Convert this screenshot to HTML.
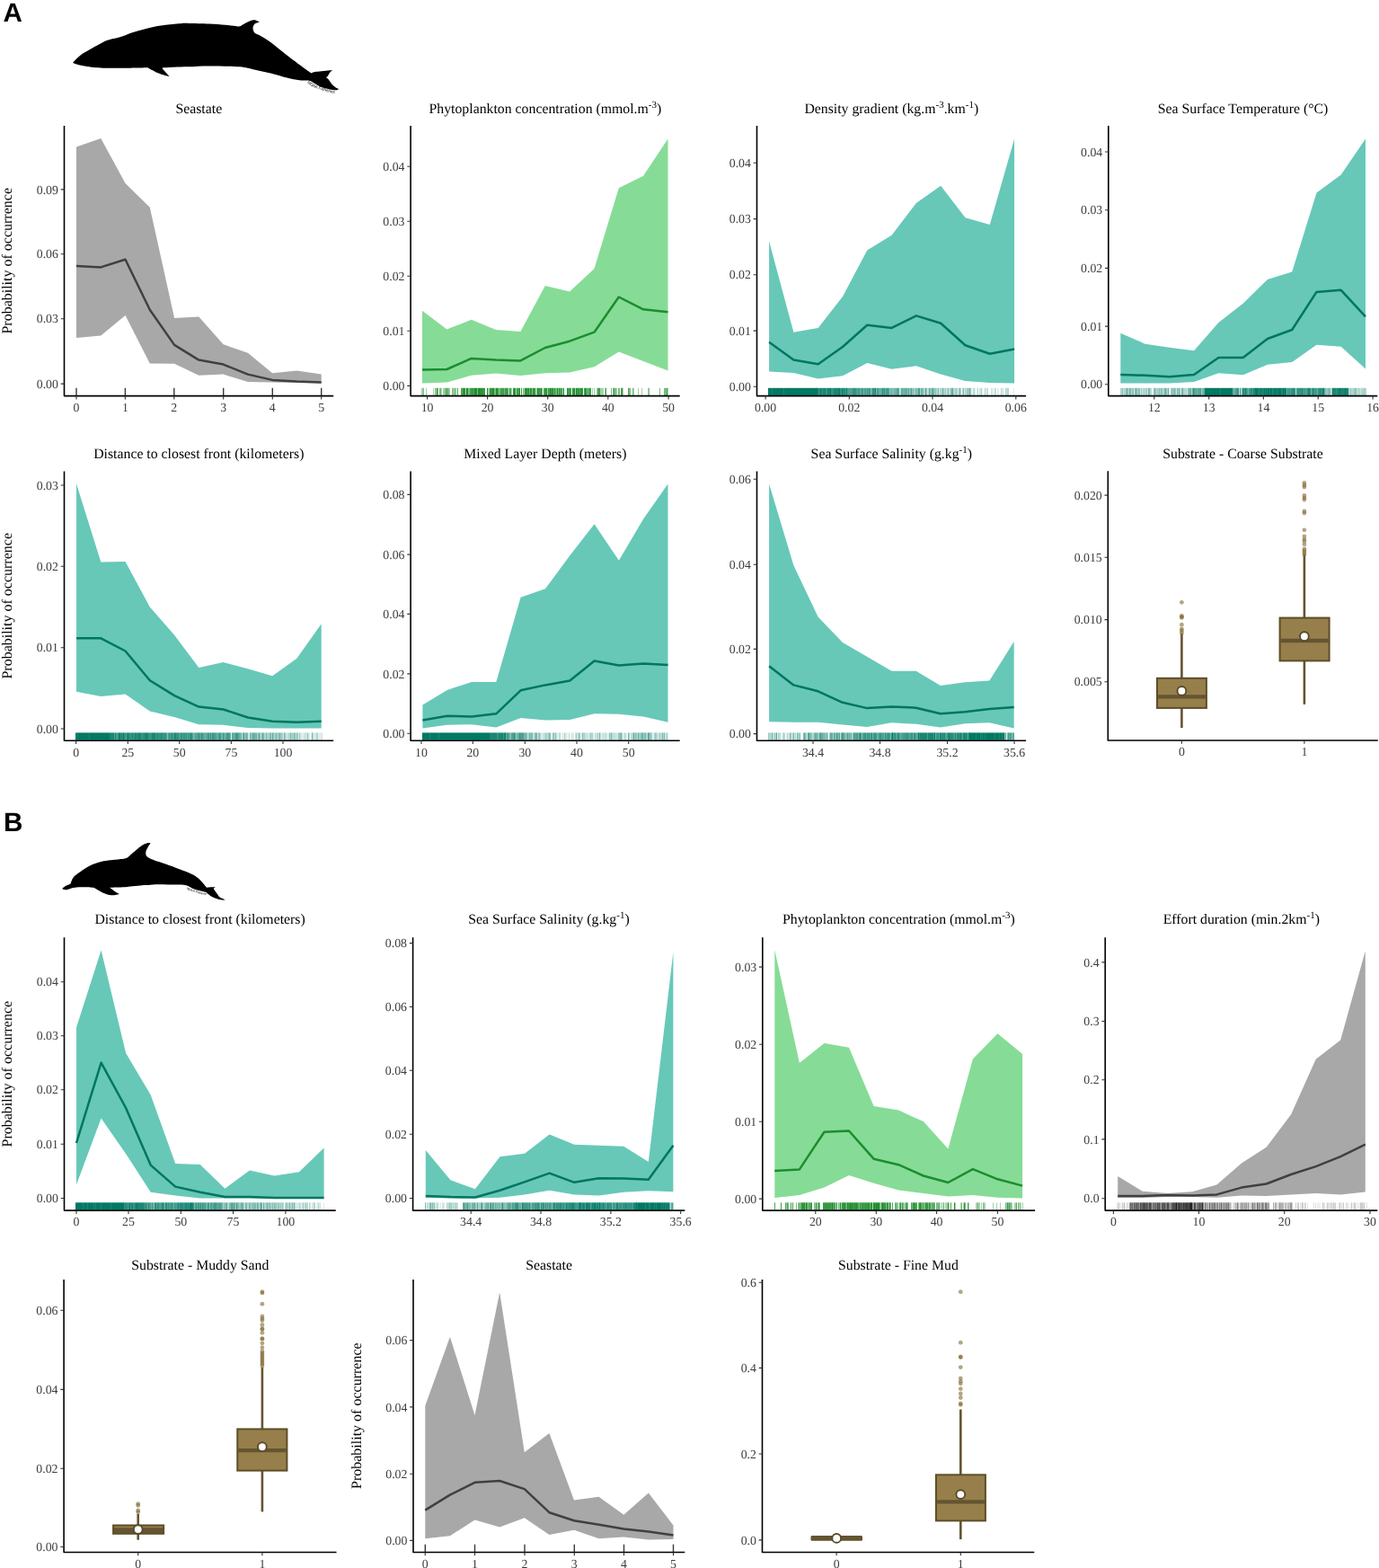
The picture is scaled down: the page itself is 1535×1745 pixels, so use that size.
<!DOCTYPE html>
<html><head><meta charset="utf-8"><title>Figure</title>
<style>
html,body{margin:0;padding:0;background:#fff;}
body{width:1535px;height:1745px;overflow:hidden;}
svg{display:block;}
text{text-rendering:geometricPrecision;}
.tl{font-family:"Liberation Serif","Times New Roman",serif;font-size:13.8px;fill:#3c3c3c;}
.tt{font-family:"Liberation Serif","Times New Roman",serif;font-size:15.8px;fill:#000;}
.tt .sup{font-size:11px;}
.yl{font-family:"Liberation Serif","Times New Roman",serif;font-size:16px;fill:#000;}
.pl{font-family:"Liberation Sans",Arial,sans-serif;font-weight:bold;font-size:29.6px;fill:#000;}
.noaa{font-family:"Liberation Sans",Arial,sans-serif;font-size:4.7px;fill:#000;}
</style></head><body>
<svg width="1535" height="1745" viewBox="0 0 1535 1745">
<rect width="1535" height="1745" fill="#fff"/>

<text class="pl" x="3.5" y="23.9">A</text>
<text class="pl" x="4.0" y="924.6">B</text>
<path d="M81.2 69.7C81.2 69.7 82.4 68.1 84.1 66.5C85.8 64.9 88.4 62.2 91.4 60.1C94.5 58.0 98.8 55.8 102.4 53.7C106.1 51.7 110.6 49.2 113.3 47.8C116.0 46.4 117.3 45.8 118.8 45.1C120.3 44.5 119.8 44.6 122.4 43.9C125.0 43.2 130.0 42.3 134.3 41.0C138.6 39.7 142.7 37.7 148.0 36.0C153.3 34.3 160.1 32.3 166.2 30.9C172.3 29.5 178.3 28.6 184.4 27.8C190.5 27.0 198.4 26.2 202.7 25.9C207.0 25.6 205.0 25.8 210.0 25.9C215.0 26.0 226.0 26.1 232.8 26.4C239.6 26.7 245.7 27.3 251.0 27.8C256.3 28.3 261.8 29.2 264.7 29.4C267.6 29.5 268.4 28.7 268.4 28.7C268.4 28.7 273.4 25.7 275.7 24.6C278.0 23.5 280.4 22.6 282.1 22.3C283.8 22.0 284.6 22.6 285.7 23.0C286.8 23.4 288.9 24.4 288.9 24.4C288.9 24.4 285.9 25.1 284.8 25.8C283.7 26.5 282.6 27.6 282.1 28.7C281.6 29.8 281.4 31.0 281.6 32.3C281.8 33.6 282.4 35.4 283.4 36.4C284.4 37.4 287.5 38.5 287.5 38.5C287.5 38.5 295.9 43.1 301.2 46.9C306.5 50.7 313.3 56.8 319.4 61.5C325.5 66.2 333.2 71.9 337.7 75.2C342.2 78.5 346.4 81.4 346.4 81.4C346.4 81.4 348.2 80.3 351.9 79.8C355.5 79.3 365.4 78.3 368.3 78.2C371.2 78.1 369.0 79.1 369.0 79.1C369.0 79.1 367.7 80.0 367.0 80.9C366.3 81.8 365.6 83.6 364.9 84.6C364.2 85.5 362.9 86.6 362.9 86.6C362.9 86.6 364.3 87.0 365.1 87.8C365.9 88.6 367.0 90.3 367.9 91.4C368.8 92.5 369.2 93.6 370.2 94.6C371.2 95.6 372.7 96.7 373.8 97.4C374.9 98.1 376.8 98.7 376.8 98.7C376.8 98.7 376.3 99.9 376.3 99.9C376.3 99.9 372.4 100.3 370.2 100.1C368.0 99.9 365.6 99.1 363.3 98.5C361.0 97.9 359.5 97.8 356.5 96.4C353.5 95.0 345.5 90.1 345.5 90.1C345.5 90.1 343.4 89.7 341.3 89.6C339.2 89.5 336.8 89.8 333.1 89.3C329.5 88.8 324.7 87.9 319.4 86.6C314.1 85.3 307.3 83.1 301.2 81.6C295.1 80.1 288.8 78.7 283.0 77.5C277.2 76.3 274.9 75.0 266.5 74.3C258.1 73.6 242.2 73.4 232.8 73.4C223.4 73.4 216.5 74.1 210.0 74.3C203.5 74.5 198.5 74.5 193.6 74.7C188.7 74.9 180.8 75.4 180.8 75.4C180.8 75.4 180.4 75.9 181.7 77.5C183.0 79.1 188.6 84.9 188.6 84.9C188.6 84.9 186.7 84.8 184.5 84.2C182.3 83.6 178.7 82.6 175.3 81.1C172.0 79.6 164.4 75.2 164.4 75.2C164.4 75.2 139.3 75.8 129.7 75.8C120.1 75.8 113.7 75.8 106.9 75.2C100.1 74.6 92.8 73.2 88.7 72.4C84.6 71.6 83.5 71.0 82.3 70.6C81.0 70.1 81.2 69.7 81.2 69.7Z" fill="#000"/>
<path id="np1" d="M341.8 92.4 Q350 99.6 375 104.6" fill="none"/>
<text class="noaa"><textPath href="#np1">NOAA Fisheries</textPath></text>
<path d="M69.4 988.8C69.4 988.8 71.2 987.3 72.2 986.6C73.2 985.9 74.6 985.3 75.7 984.8C76.8 984.3 78.6 983.4 78.6 983.4C78.6 983.4 79.3 980.8 80.0 979.4C80.7 978.0 81.5 976.5 82.9 975.1C84.3 973.7 86.6 972.3 88.6 970.8C90.6 969.3 92.5 967.8 95.1 966.2C97.7 964.7 101.1 962.8 104.4 961.5C107.8 960.2 111.6 959.1 115.2 958.3C118.8 957.5 122.0 957.4 125.9 956.9C129.8 956.4 136.1 955.9 138.8 955.4C141.6 954.9 142.4 954.0 142.4 954.0C142.4 954.0 148.4 948.7 151.0 946.5C153.6 944.3 155.9 942.1 158.2 940.7C160.5 939.3 163.0 938.4 164.6 938.0C166.2 937.6 167.5 938.5 167.5 938.5C167.5 938.5 165.4 941.4 164.6 942.9C163.8 944.4 162.8 945.8 162.5 947.2C162.2 948.6 162.2 950.4 162.5 951.5C162.8 952.6 163.5 953.2 164.6 954.0C165.7 954.8 166.9 955.4 168.9 956.2C170.9 957.1 172.5 957.6 176.7 959.1C180.9 960.6 188.9 963.2 194.3 965.2C199.7 967.2 205.1 969.1 209.0 970.8C212.9 972.5 215.4 973.6 217.8 975.2C220.2 976.8 221.6 978.1 223.6 980.2C225.6 982.3 230.1 987.8 230.1 987.8C230.1 987.8 232.6 987.3 234.2 987.2C235.8 987.1 239.8 987.2 239.8 987.2C239.8 987.2 237.7 988.7 237.7 988.7C237.7 988.7 238.2 989.7 238.9 990.7C239.6 991.7 240.8 993.5 241.8 994.8C242.8 996.1 243.2 997.5 244.7 998.6C246.2 999.7 250.9 1001.3 250.9 1001.3C250.9 1001.3 248.9 1001.9 247.1 1001.6C245.3 1001.4 242.2 1000.6 240.0 999.8C237.8 999.0 235.9 998.0 234.2 996.9C232.4 995.8 229.5 993.1 229.5 993.1C229.5 993.1 226.0 992.3 223.6 991.6C221.2 990.9 217.5 990.1 214.8 989.0C212.1 987.9 210.6 985.9 207.2 985.2C203.8 984.5 199.4 984.8 194.3 984.6C189.2 984.5 181.6 984.2 176.7 984.3C171.8 984.3 168.1 984.8 165.0 984.9C161.9 985.0 162.9 984.8 158.2 985.2C153.5 985.6 142.7 986.9 136.7 987.3C130.7 987.7 122.3 987.7 122.3 987.7C122.3 987.7 126.4 991.1 128.1 992.3C129.8 993.5 132.7 994.9 132.7 994.9C132.7 994.9 126.7 996.5 123.8 996.3C120.9 996.1 118.4 995.2 115.2 993.8C112.0 992.4 104.4 987.7 104.4 987.7C104.4 987.7 93.9 987.2 90.1 987.2C86.3 987.2 84.1 987.5 81.5 988.0C78.9 988.5 76.1 989.9 74.3 990.2C72.5 990.5 71.2 990.0 70.4 989.8C69.6 989.6 69.4 988.8 69.4 988.8Z" fill="#000"/>
<path id="np2" d="M207.5 989.6 Q216 993.6 229.5 996.2" fill="none"/>
<text class="noaa" style="font-size:3.5px"><textPath href="#np2">NOAA Fisheries</textPath></text>
<polygon points="85,163.4 112.3,154 139.5,204 166.8,230.7 194.1,354.1 221.3,352.6 248.6,383.3 275.9,392.7 303.2,415.2 330.4,412.5 357.7,416.6 357.7,426.4 330.4,426 303.2,425.6 275.9,425 248.6,416.6 221.3,417.7 194.1,404.7 166.8,404.5 139.5,351 112.3,373.5 85,376" fill="#a9a8a9"/>
<polyline points="85,296.1 112.3,297.4 139.5,288.8 166.8,344.7 194.1,383.9 221.3,400.6 248.6,405.6 275.9,416.6 303.2,422.9 330.4,424.6 357.7,425.6" fill="none" stroke="#404040" stroke-width="2.5" stroke-linejoin="round"/>
<line x1="85" y1="431.8" x2="85" y2="440.3" stroke="#3a3a3a" stroke-width="1.4"/>
<line x1="139.4" y1="431.8" x2="139.4" y2="440.3" stroke="#3a3a3a" stroke-width="1.4"/>
<line x1="193.8" y1="431.8" x2="193.8" y2="440.3" stroke="#3a3a3a" stroke-width="1.4"/>
<line x1="248.7" y1="431.8" x2="248.7" y2="440.3" stroke="#3a3a3a" stroke-width="1.4"/>
<line x1="303.3" y1="431.8" x2="303.3" y2="440.3" stroke="#3a3a3a" stroke-width="1.4"/>
<line x1="357.7" y1="431.8" x2="357.7" y2="440.3" stroke="#3a3a3a" stroke-width="1.4"/>
<path d="M71.5 140V440.6H371.2" fill="none" stroke="#000" stroke-width="1.6" stroke-linejoin="round"/>
<path d="M85 440.6v3.8M139.4 440.6v3.8M193.8 440.6v3.8M248.7 440.6v3.8M303.3 440.6v3.8M357.7 440.6v3.8M71.5 427.1h-3.8M71.5 354.7h-3.8M71.5 282.8h-3.8M71.5 210.9h-3.8" stroke="#333" stroke-width="1.1" fill="none"/>
<text class="tl" x="85" y="457.9" text-anchor="middle">0</text>
<text class="tl" x="139.4" y="457.9" text-anchor="middle">1</text>
<text class="tl" x="193.8" y="457.9" text-anchor="middle">2</text>
<text class="tl" x="248.7" y="457.9" text-anchor="middle">3</text>
<text class="tl" x="303.3" y="457.9" text-anchor="middle">4</text>
<text class="tl" x="357.7" y="457.9" text-anchor="middle">5</text>
<text class="tl" x="64.9" y="431.7" text-anchor="end">0.00</text>
<text class="tl" x="64.9" y="359.3" text-anchor="end">0.03</text>
<text class="tl" x="64.9" y="287.4" text-anchor="end">0.06</text>
<text class="tl" x="64.9" y="215.5" text-anchor="end">0.09</text>
<text class="tt" x="221.3" y="125.6" text-anchor="middle">Seastate</text>
<text class="yl" transform="translate(13.2 290.3) rotate(-90)" text-anchor="middle">Probability of occurrence</text>
<polygon points="470,345.8 497.4,366.6 524.7,355.8 552,367 579.4,369.1 606.8,318 634.1,324.5 661.5,298.9 688.8,209.2 716.1,195.7 743.5,154.6 743.5,412.5 716.1,402 688.8,391.6 661.5,408.3 634.1,414.5 606.8,415.2 579.4,418.1 552,415.6 524.7,417.7 497.4,425.6 470,426.4" fill="#86dc96"/>
<polyline points="470,411.4 497.4,411 524.7,398.9 552,400.6 579.4,401.4 606.8,387 634.1,379.7 661.5,369.7 688.8,330.5 716.1,344.3 743.5,347.2" fill="none" stroke="#1d8c2f" stroke-width="2.5" stroke-linejoin="round"/>
<path d="M469.5 431.8v8.5M470.5 431.8v8.5M474.5 431.8v8.5M482.5 431.8v8.5M485.5 431.8v8.5M491.5 431.8v8.5M493.5 431.8v8.5M494.5 431.8v8.5M500.5 431.8v8.5M504.5 431.8v8.5M506.5 431.8v8.5M518.5 431.8v8.5M543.5 431.8v8.5M544.5 431.8v8.5M566.5 431.8v8.5M569.5 431.8v8.5M574.5 431.8v8.5M583.5 431.8v8.5M596.5 431.8v8.5M597.5 431.8v8.5M609.5 431.8v8.5M626.5 431.8v8.5M640.5 431.8v8.5M659.5 431.8v8.5M661.5 431.8v8.5M664.5 431.8v8.5M668.5 431.8v8.5M669.5 431.8v8.5M670.5 431.8v8.5M671.5 431.8v8.5M673.5 431.8v8.5M686.5 431.8v8.5M693.5 431.8v8.5M705.5 431.8v8.5M710.5 431.8v8.5M714.5 431.8v8.5M721.5 431.8v8.5M743.5 431.8v8.5" stroke="#1f8f2f" stroke-opacity="0.4" stroke-width="1"/>
<path d="M471.5 431.8v8.5M484.5 431.8v8.5M487.5 431.8v8.5M489.5 431.8v8.5M490.5 431.8v8.5M495.5 431.8v8.5M496.5 431.8v8.5M498.5 431.8v8.5M499.5 431.8v8.5M503.5 431.8v8.5M505.5 431.8v8.5M507.5 431.8v8.5M521.5 431.8v8.5M522.5 431.8v8.5M531.5 431.8v8.5M550.5 431.8v8.5M551.5 431.8v8.5M555.5 431.8v8.5M556.5 431.8v8.5M561.5 431.8v8.5M565.5 431.8v8.5M582.5 431.8v8.5M589.5 431.8v8.5M592.5 431.8v8.5M603.5 431.8v8.5M616.5 431.8v8.5M618.5 431.8v8.5M619.5 431.8v8.5M621.5 431.8v8.5M653.5 431.8v8.5M655.5 431.8v8.5M680.5 431.8v8.5M682.5 431.8v8.5M684.5 431.8v8.5M685.5 431.8v8.5M688.5 431.8v8.5M689.5 431.8v8.5M700.5 431.8v8.5M701.5 431.8v8.5M704.5 431.8v8.5M722.5 431.8v8.5M734.5 431.8v8.5M739.5 431.8v8.5M740.5 431.8v8.5M741.5 431.8v8.5" stroke="#1f8f2f" stroke-opacity="0.6" stroke-width="1"/>
<path d="M497.5 431.8v8.5M509.5 431.8v8.5M513.5 431.8v8.5M514.5 431.8v8.5M523.5 431.8v8.5M527.5 431.8v8.5M554.5 431.8v8.5M557.5 431.8v8.5M559.5 431.8v8.5M563.5 431.8v8.5M567.5 431.8v8.5M568.5 431.8v8.5M575.5 431.8v8.5M577.5 431.8v8.5M595.5 431.8v8.5M601.5 431.8v8.5M605.5 431.8v8.5M606.5 431.8v8.5M611.5 431.8v8.5M623.5 431.8v8.5M624.5 431.8v8.5M625.5 431.8v8.5M632.5 431.8v8.5M634.5 431.8v8.5M645.5 431.8v8.5M650.5 431.8v8.5M654.5 431.8v8.5M657.5 431.8v8.5M665.5 431.8v8.5M666.5 431.8v8.5M683.5 431.8v8.5M691.5 431.8v8.5M699.5 431.8v8.5M742.5 431.8v8.5" stroke="#1f8f2f" stroke-opacity="0.8" stroke-width="1"/>
<path d="M486.5 431.8v8.5M515.5 431.8v8.5M517.5 431.8v8.5M524.5 431.8v8.5M525.5 431.8v8.5M526.5 431.8v8.5M535.5 431.8v8.5M537.5 431.8v8.5M538.5 431.8v8.5M539.5 431.8v8.5M545.5 431.8v8.5M546.5 431.8v8.5M547.5 431.8v8.5M558.5 431.8v8.5M560.5 431.8v8.5M562.5 431.8v8.5M571.5 431.8v8.5M573.5 431.8v8.5M576.5 431.8v8.5M580.5 431.8v8.5M584.5 431.8v8.5M586.5 431.8v8.5M587.5 431.8v8.5M591.5 431.8v8.5M593.5 431.8v8.5M599.5 431.8v8.5M600.5 431.8v8.5M608.5 431.8v8.5M610.5 431.8v8.5M613.5 431.8v8.5M614.5 431.8v8.5M622.5 431.8v8.5M633.5 431.8v8.5M635.5 431.8v8.5M638.5 431.8v8.5M642.5 431.8v8.5M643.5 431.8v8.5M644.5 431.8v8.5M646.5 431.8v8.5M648.5 431.8v8.5M652.5 431.8v8.5M667.5 431.8v8.5M674.5 431.8v8.5M692.5 431.8v8.5" stroke="#1f8f2f" stroke-opacity="0.9" stroke-width="1"/>
<path d="M516.5 431.8v8.5M519.5 431.8v8.5M520.5 431.8v8.5M528.5 431.8v8.5M529.5 431.8v8.5M530.5 431.8v8.5M532.5 431.8v8.5M533.5 431.8v8.5M534.5 431.8v8.5M536.5 431.8v8.5M542.5 431.8v8.5M548.5 431.8v8.5M549.5 431.8v8.5M552.5 431.8v8.5M553.5 431.8v8.5M564.5 431.8v8.5M572.5 431.8v8.5M578.5 431.8v8.5M585.5 431.8v8.5M588.5 431.8v8.5M590.5 431.8v8.5M594.5 431.8v8.5M598.5 431.8v8.5M602.5 431.8v8.5M607.5 431.8v8.5M612.5 431.8v8.5M615.5 431.8v8.5M617.5 431.8v8.5M620.5 431.8v8.5M627.5 431.8v8.5M631.5 431.8v8.5M637.5 431.8v8.5M639.5 431.8v8.5M641.5 431.8v8.5M647.5 431.8v8.5M651.5 431.8v8.5M656.5 431.8v8.5" stroke="#1f8f2f" stroke-opacity="1.0" stroke-width="1"/>
<path d="M457.1 140V440.6H756.7" fill="none" stroke="#000" stroke-width="1.6" stroke-linejoin="round"/>
<path d="M475.6 440.6v3.8M542.6 440.6v3.8M609.7 440.6v3.8M676.8 440.6v3.8M744.1 440.6v3.8M457.1 429.4h-3.8M457.1 368.3h-3.8M457.1 307.2h-3.8M457.1 246.3h-3.8M457.1 185.2h-3.8" stroke="#333" stroke-width="1.1" fill="none"/>
<text class="tl" x="475.6" y="457.9" text-anchor="middle">10</text>
<text class="tl" x="542.6" y="457.9" text-anchor="middle">20</text>
<text class="tl" x="609.7" y="457.9" text-anchor="middle">30</text>
<text class="tl" x="676.8" y="457.9" text-anchor="middle">40</text>
<text class="tl" x="744.1" y="457.9" text-anchor="middle">50</text>
<text class="tl" x="450.5" y="434" text-anchor="end">0.00</text>
<text class="tl" x="450.5" y="372.9" text-anchor="end">0.01</text>
<text class="tl" x="450.5" y="311.8" text-anchor="end">0.02</text>
<text class="tl" x="450.5" y="250.9" text-anchor="end">0.03</text>
<text class="tl" x="450.5" y="189.8" text-anchor="end">0.04</text>
<text class="tt" x="606.9" y="125.6" text-anchor="middle">Phytoplankton concentration (mmol.m<tspan class="sup" dy="-6">-3</tspan><tspan dy="6">)</tspan></text>
<polygon points="856.1,268.6 883.4,369.7 910.7,364.9 938,330.1 965.3,278.6 992.6,261.7 1019.9,225.9 1047.2,206.7 1074.5,242.2 1101.8,249.9 1129.1,154.6 1129.1,426.4 1101.8,426 1074.5,423.9 1047.2,416.6 1019.9,407.3 992.6,410.8 965.3,404.1 938,418.3 910.7,421.4 883.4,415 856.1,413.5" fill="#67c8b8"/>
<polyline points="856.1,380.8 883.4,400.6 910.7,405.2 938,386 965.3,361.8 992.6,364.9 1019.9,351.4 1047.2,359.7 1074.5,384.3 1101.8,393.7 1129.1,388.5" fill="none" stroke="#00765f" stroke-width="2.5" stroke-linejoin="round"/>
<path d="M1066.5 431.8v8.5M1073.5 431.8v8.5M1081.5 431.8v8.5M1082.5 431.8v8.5M1085.5 431.8v8.5M1087.5 431.8v8.5M1093.5 431.8v8.5M1095.5 431.8v8.5M1098.5 431.8v8.5M1104.5 431.8v8.5M1105.5 431.8v8.5M1110.5 431.8v8.5M1111.5 431.8v8.5M1115.5 431.8v8.5M1128.5 431.8v8.5" stroke="#007a64" stroke-opacity="0.12" stroke-width="1"/>
<path d="M1001.5 431.8v8.5M1032.5 431.8v8.5M1045.5 431.8v8.5M1053.5 431.8v8.5M1056.5 431.8v8.5M1083.5 431.8v8.5M1090.5 431.8v8.5M1091.5 431.8v8.5M1096.5 431.8v8.5M1097.5 431.8v8.5M1103.5 431.8v8.5M1108.5 431.8v8.5M1116.5 431.8v8.5M1120.5 431.8v8.5" stroke="#007a64" stroke-opacity="0.2" stroke-width="1"/>
<path d="M989.5 431.8v8.5M1002.5 431.8v8.5M1018.5 431.8v8.5M1024.5 431.8v8.5M1028.5 431.8v8.5M1029.5 431.8v8.5M1033.5 431.8v8.5M1036.5 431.8v8.5M1038.5 431.8v8.5M1038.5 431.8v8.5M1040.5 431.8v8.5M1042.5 431.8v8.5M1043.5 431.8v8.5M1046.5 431.8v8.5M1047.5 431.8v8.5M1048.5 431.8v8.5M1050.5 431.8v8.5M1051.5 431.8v8.5M1054.5 431.8v8.5M1057.5 431.8v8.5M1061.5 431.8v8.5M1062.5 431.8v8.5M1063.5 431.8v8.5M1065.5 431.8v8.5M1069.5 431.8v8.5M1071.5 431.8v8.5M1074.5 431.8v8.5M1075.5 431.8v8.5M1076.5 431.8v8.5M1078.5 431.8v8.5M1079.5 431.8v8.5M1080.5 431.8v8.5M1084.5 431.8v8.5M1088.5 431.8v8.5M1092.5 431.8v8.5M1099.5 431.8v8.5M1107.5 431.8v8.5M1114.5 431.8v8.5M1119.5 431.8v8.5M1121.5 431.8v8.5M1122.5 431.8v8.5" stroke="#007a64" stroke-opacity="0.3" stroke-width="1"/>
<path d="M990.5 431.8v8.5M1010.5 431.8v8.5M1012.5 431.8v8.5M1015.5 431.8v8.5M1017.5 431.8v8.5M1020.5 431.8v8.5M1031.5 431.8v8.5M1052.5 431.8v8.5M1058.5 431.8v8.5M1064.5 431.8v8.5M1067.5 431.8v8.5" stroke="#007a64" stroke-opacity="0.4" stroke-width="1"/>
<path d="M969.5 431.8v8.5M975.5 431.8v8.5M978.5 431.8v8.5M980.5 431.8v8.5M992.5 431.8v8.5M993.5 431.8v8.5M994.5 431.8v8.5M995.5 431.8v8.5M997.5 431.8v8.5M1006.5 431.8v8.5M1008.5 431.8v8.5M1013.5 431.8v8.5M1016.5 431.8v8.5M1021.5 431.8v8.5M1026.5 431.8v8.5M1027.5 431.8v8.5M1035.5 431.8v8.5M1041.5 431.8v8.5M1044.5 431.8v8.5M1055.5 431.8v8.5M1068.5 431.8v8.5M1072.5 431.8v8.5M1077.5 431.8v8.5M1079.5 431.8v8.5" stroke="#007a64" stroke-opacity="0.5" stroke-width="1"/>
<path d="M957.5 431.8v8.5M958.5 431.8v8.5M961.5 431.8v8.5M964.5 431.8v8.5M966.5 431.8v8.5M970.5 431.8v8.5M985.5 431.8v8.5M989.5 431.8v8.5M991.5 431.8v8.5M996.5 431.8v8.5M1000.5 431.8v8.5M1003.5 431.8v8.5M1004.5 431.8v8.5M1005.5 431.8v8.5M1019.5 431.8v8.5M1025.5 431.8v8.5M1034.5 431.8v8.5M1039.5 431.8v8.5M1049.5 431.8v8.5M1059.5 431.8v8.5M1060.5 431.8v8.5" stroke="#007a64" stroke-opacity="0.6" stroke-width="1"/>
<path d="M941.5 431.8v8.5M942.5 431.8v8.5M943.5 431.8v8.5M944.5 431.8v8.5M945.5 431.8v8.5M946.5 431.8v8.5M947.5 431.8v8.5M948.5 431.8v8.5M953.5 431.8v8.5M954.5 431.8v8.5M955.5 431.8v8.5M960.5 431.8v8.5M962.5 431.8v8.5M963.5 431.8v8.5M968.5 431.8v8.5M976.5 431.8v8.5M979.5 431.8v8.5M981.5 431.8v8.5M983.5 431.8v8.5M986.5 431.8v8.5M988.5 431.8v8.5M998.5 431.8v8.5M999.5 431.8v8.5M1007.5 431.8v8.5M1009.5 431.8v8.5M1011.5 431.8v8.5M1014.5 431.8v8.5M1022.5 431.8v8.5M1023.5 431.8v8.5M1030.5 431.8v8.5M1037.5 431.8v8.5" stroke="#007a64" stroke-opacity="0.7" stroke-width="1"/>
<path d="M911.5 431.8v8.5M915.5 431.8v8.5M919.5 431.8v8.5M920.5 431.8v8.5M925.5 431.8v8.5M926.5 431.8v8.5M927.5 431.8v8.5M935.5 431.8v8.5M936.5 431.8v8.5M939.5 431.8v8.5M949.5 431.8v8.5M950.5 431.8v8.5M951.5 431.8v8.5M952.5 431.8v8.5M956.5 431.8v8.5M959.5 431.8v8.5M965.5 431.8v8.5M967.5 431.8v8.5M971.5 431.8v8.5M972.5 431.8v8.5M973.5 431.8v8.5M977.5 431.8v8.5M982.5 431.8v8.5M984.5 431.8v8.5M987.5 431.8v8.5" stroke="#007a64" stroke-opacity="0.8" stroke-width="1"/>
<path d="M859.5 431.8v8.5M872.5 431.8v8.5M909.5 431.8v8.5M910.5 431.8v8.5M912.5 431.8v8.5M913.5 431.8v8.5M914.5 431.8v8.5M916.5 431.8v8.5M917.5 431.8v8.5M918.5 431.8v8.5M921.5 431.8v8.5M922.5 431.8v8.5M923.5 431.8v8.5M928.5 431.8v8.5M929.5 431.8v8.5M930.5 431.8v8.5M931.5 431.8v8.5M932.5 431.8v8.5M933.5 431.8v8.5M937.5 431.8v8.5M938.5 431.8v8.5M940.5 431.8v8.5M942.5 431.8v8.5M974.5 431.8v8.5" stroke="#007a64" stroke-opacity="0.9" stroke-width="1"/>
<path d="M855.5 431.8v8.5M856.5 431.8v8.5M857.5 431.8v8.5M858.5 431.8v8.5M860.5 431.8v8.5M861.5 431.8v8.5M862.5 431.8v8.5M863.5 431.8v8.5M864.5 431.8v8.5M865.5 431.8v8.5M866.5 431.8v8.5M867.5 431.8v8.5M868.5 431.8v8.5M869.5 431.8v8.5M870.5 431.8v8.5M871.5 431.8v8.5M873.5 431.8v8.5M874.5 431.8v8.5M875.5 431.8v8.5M876.5 431.8v8.5M877.5 431.8v8.5M878.5 431.8v8.5M879.5 431.8v8.5M880.5 431.8v8.5M881.5 431.8v8.5M882.5 431.8v8.5M883.5 431.8v8.5M884.5 431.8v8.5M885.5 431.8v8.5M886.5 431.8v8.5M887.5 431.8v8.5M888.5 431.8v8.5M889.5 431.8v8.5M890.5 431.8v8.5M891.5 431.8v8.5M892.5 431.8v8.5M893.5 431.8v8.5M894.5 431.8v8.5M895.5 431.8v8.5M896.5 431.8v8.5M897.5 431.8v8.5M898.5 431.8v8.5M899.5 431.8v8.5M900.5 431.8v8.5M901.5 431.8v8.5M902.5 431.8v8.5M903.5 431.8v8.5M904.5 431.8v8.5M905.5 431.8v8.5M906.5 431.8v8.5M907.5 431.8v8.5M908.5 431.8v8.5M909.5 431.8v8.5M924.5 431.8v8.5M934.5 431.8v8.5" stroke="#007a64" stroke-opacity="1.0" stroke-width="1"/>
<path d="M842.5 140V440.6H1142.1" fill="none" stroke="#000" stroke-width="1.6" stroke-linejoin="round"/>
<path d="M852.1 440.6v3.8M945.3 440.6v3.8M1038 440.6v3.8M1130.8 440.6v3.8M842.5 430.2h-3.8M842.5 368.1h-3.8M842.5 305.7h-3.8M842.5 243.6h-3.8M842.5 181.3h-3.8" stroke="#333" stroke-width="1.1" fill="none"/>
<text class="tl" x="852.1" y="457.9" text-anchor="middle">0.00</text>
<text class="tl" x="945.3" y="457.9" text-anchor="middle">0.02</text>
<text class="tl" x="1038" y="457.9" text-anchor="middle">0.04</text>
<text class="tl" x="1130.8" y="457.9" text-anchor="middle">0.06</text>
<text class="tl" x="835.9" y="434.8" text-anchor="end">0.00</text>
<text class="tl" x="835.9" y="372.7" text-anchor="end">0.01</text>
<text class="tl" x="835.9" y="310.3" text-anchor="end">0.02</text>
<text class="tl" x="835.9" y="248.2" text-anchor="end">0.03</text>
<text class="tl" x="835.9" y="185.9" text-anchor="end">0.04</text>
<text class="tt" x="992.3" y="125.6" text-anchor="middle">Density gradient (kg.m<tspan class="sup" dy="-6">-3</tspan><tspan dy="6">.km</tspan><tspan class="sup" dy="-6">-1</tspan><tspan dy="6">)</tspan></text>
<polygon points="1247.3,370.8 1274.6,382.7 1301.8,386.8 1329.1,390.2 1356.4,358.9 1383.7,337.8 1410.9,310.9 1438.2,302.6 1465.5,214.4 1492.7,194.6 1520,154.6 1520,410.4 1492.7,385.8 1465.5,383.7 1438.2,403.1 1410.9,405.8 1383.7,417.3 1356.4,415.2 1329.1,425 1301.8,426.4 1274.6,426.4 1247.3,426.4" fill="#67c8b8"/>
<polyline points="1247.3,417.1 1274.6,417.7 1301.8,419.3 1329.1,417.1 1356.4,397.9 1383.7,397.9 1410.9,377 1438.2,367 1465.5,324.9 1492.7,322.8 1520,352.4" fill="none" stroke="#00765f" stroke-width="2.5" stroke-linejoin="round"/>
<path d="M1262.5 431.8v8.5M1283.5 431.8v8.5M1301.5 431.8v8.5M1302.5 431.8v8.5M1314.5 431.8v8.5M1380.5 431.8v8.5" stroke="#007a64" stroke-opacity="0.12" stroke-width="1"/>
<path d="M1250.5 431.8v8.5M1269.5 431.8v8.5M1271.5 431.8v8.5M1277.5 431.8v8.5M1303.5 431.8v8.5M1309.5 431.8v8.5M1321.5 431.8v8.5M1379.5 431.8v8.5M1481.5 431.8v8.5M1500.5 431.8v8.5M1510.5 431.8v8.5M1514.5 431.8v8.5" stroke="#007a64" stroke-opacity="0.2" stroke-width="1"/>
<path d="M1247.5 431.8v8.5M1248.5 431.8v8.5M1251.5 431.8v8.5M1253.5 431.8v8.5M1255.5 431.8v8.5M1259.5 431.8v8.5M1266.5 431.8v8.5M1272.5 431.8v8.5M1273.5 431.8v8.5M1274.5 431.8v8.5M1275.5 431.8v8.5M1280.5 431.8v8.5M1281.5 431.8v8.5M1287.5 431.8v8.5M1289.5 431.8v8.5M1291.5 431.8v8.5M1294.5 431.8v8.5M1295.5 431.8v8.5M1299.5 431.8v8.5M1305.5 431.8v8.5M1317.5 431.8v8.5M1318.5 431.8v8.5M1319.5 431.8v8.5M1320.5 431.8v8.5M1326.5 431.8v8.5M1381.5 431.8v8.5M1442.5 431.8v8.5M1483.5 431.8v8.5M1501.5 431.8v8.5M1502.5 431.8v8.5M1504.5 431.8v8.5M1505.5 431.8v8.5M1506.5 431.8v8.5M1511.5 431.8v8.5M1512.5 431.8v8.5M1513.5 431.8v8.5M1515.5 431.8v8.5M1516.5 431.8v8.5M1517.5 431.8v8.5M1519.5 431.8v8.5M1520.5 431.8v8.5" stroke="#007a64" stroke-opacity="0.3" stroke-width="1"/>
<path d="M1252.5 431.8v8.5M1256.5 431.8v8.5M1260.5 431.8v8.5M1268.5 431.8v8.5M1270.5 431.8v8.5M1276.5 431.8v8.5M1284.5 431.8v8.5M1286.5 431.8v8.5M1288.5 431.8v8.5M1293.5 431.8v8.5M1298.5 431.8v8.5M1308.5 431.8v8.5M1311.5 431.8v8.5M1313.5 431.8v8.5M1322.5 431.8v8.5M1337.5 431.8v8.5M1382.5 431.8v8.5M1473.5 431.8v8.5M1476.5 431.8v8.5M1477.5 431.8v8.5M1482.5 431.8v8.5M1503.5 431.8v8.5M1507.5 431.8v8.5M1508.5 431.8v8.5M1518.5 431.8v8.5" stroke="#007a64" stroke-opacity="0.4" stroke-width="1"/>
<path d="M1249.5 431.8v8.5M1257.5 431.8v8.5M1258.5 431.8v8.5M1261.5 431.8v8.5M1263.5 431.8v8.5M1264.5 431.8v8.5M1265.5 431.8v8.5M1267.5 431.8v8.5M1278.5 431.8v8.5M1279.5 431.8v8.5M1285.5 431.8v8.5M1290.5 431.8v8.5M1292.5 431.8v8.5M1296.5 431.8v8.5M1306.5 431.8v8.5M1307.5 431.8v8.5M1310.5 431.8v8.5M1312.5 431.8v8.5M1315.5 431.8v8.5M1324.5 431.8v8.5M1332.5 431.8v8.5M1338.5 431.8v8.5M1475.5 431.8v8.5M1478.5 431.8v8.5M1479.5 431.8v8.5M1480.5 431.8v8.5M1509.5 431.8v8.5" stroke="#007a64" stroke-opacity="0.5" stroke-width="1"/>
<path d="M1297.5 431.8v8.5M1300.5 431.8v8.5M1304.5 431.8v8.5M1316.5 431.8v8.5M1323.5 431.8v8.5M1325.5 431.8v8.5M1327.5 431.8v8.5M1330.5 431.8v8.5M1334.5 431.8v8.5M1339.5 431.8v8.5M1340.5 431.8v8.5M1341.5 431.8v8.5M1372.5 431.8v8.5M1373.5 431.8v8.5M1374.5 431.8v8.5M1383.5 431.8v8.5M1389.5 431.8v8.5M1432.5 431.8v8.5M1459.5 431.8v8.5M1466.5 431.8v8.5M1474.5 431.8v8.5" stroke="#007a64" stroke-opacity="0.6" stroke-width="1"/>
<path d="M1254.5 431.8v8.5M1329.5 431.8v8.5M1331.5 431.8v8.5M1333.5 431.8v8.5M1335.5 431.8v8.5M1336.5 431.8v8.5M1375.5 431.8v8.5M1376.5 431.8v8.5M1380.5 431.8v8.5M1388.5 431.8v8.5M1390.5 431.8v8.5M1394.5 431.8v8.5M1397.5 431.8v8.5M1434.5 431.8v8.5M1436.5 431.8v8.5M1443.5 431.8v8.5M1450.5 431.8v8.5M1452.5 431.8v8.5M1453.5 431.8v8.5M1454.5 431.8v8.5M1460.5 431.8v8.5M1463.5 431.8v8.5M1465.5 431.8v8.5" stroke="#007a64" stroke-opacity="0.7" stroke-width="1"/>
<path d="M1328.5 431.8v8.5M1371.5 431.8v8.5M1377.5 431.8v8.5M1378.5 431.8v8.5M1383.5 431.8v8.5M1384.5 431.8v8.5M1385.5 431.8v8.5M1387.5 431.8v8.5M1391.5 431.8v8.5M1392.5 431.8v8.5M1433.5 431.8v8.5M1435.5 431.8v8.5M1437.5 431.8v8.5M1438.5 431.8v8.5M1440.5 431.8v8.5M1441.5 431.8v8.5M1444.5 431.8v8.5M1445.5 431.8v8.5M1446.5 431.8v8.5M1447.5 431.8v8.5M1448.5 431.8v8.5M1451.5 431.8v8.5M1455.5 431.8v8.5M1458.5 431.8v8.5M1462.5 431.8v8.5M1464.5 431.8v8.5M1467.5 431.8v8.5M1468.5 431.8v8.5M1470.5 431.8v8.5M1471.5 431.8v8.5M1487.5 431.8v8.5" stroke="#007a64" stroke-opacity="0.8" stroke-width="1"/>
<path d="M1358.5 431.8v8.5M1386.5 431.8v8.5M1393.5 431.8v8.5M1395.5 431.8v8.5M1396.5 431.8v8.5M1397.5 431.8v8.5M1400.5 431.8v8.5M1401.5 431.8v8.5M1402.5 431.8v8.5M1404.5 431.8v8.5M1405.5 431.8v8.5M1406.5 431.8v8.5M1408.5 431.8v8.5M1410.5 431.8v8.5M1413.5 431.8v8.5M1416.5 431.8v8.5M1417.5 431.8v8.5M1420.5 431.8v8.5M1422.5 431.8v8.5M1426.5 431.8v8.5M1427.5 431.8v8.5M1429.5 431.8v8.5M1430.5 431.8v8.5M1431.5 431.8v8.5M1439.5 431.8v8.5M1449.5 431.8v8.5M1456.5 431.8v8.5M1457.5 431.8v8.5M1461.5 431.8v8.5M1469.5 431.8v8.5M1472.5 431.8v8.5M1473.5 431.8v8.5M1483.5 431.8v8.5M1484.5 431.8v8.5M1485.5 431.8v8.5M1486.5 431.8v8.5M1488.5 431.8v8.5M1489.5 431.8v8.5M1490.5 431.8v8.5M1492.5 431.8v8.5M1493.5 431.8v8.5M1494.5 431.8v8.5M1495.5 431.8v8.5M1496.5 431.8v8.5M1498.5 431.8v8.5M1499.5 431.8v8.5M1500.5 431.8v8.5" stroke="#007a64" stroke-opacity="0.9" stroke-width="1"/>
<path d="M1341.5 431.8v8.5M1342.5 431.8v8.5M1343.5 431.8v8.5M1344.5 431.8v8.5M1345.5 431.8v8.5M1346.5 431.8v8.5M1347.5 431.8v8.5M1348.5 431.8v8.5M1349.5 431.8v8.5M1350.5 431.8v8.5M1351.5 431.8v8.5M1352.5 431.8v8.5M1353.5 431.8v8.5M1354.5 431.8v8.5M1355.5 431.8v8.5M1356.5 431.8v8.5M1357.5 431.8v8.5M1359.5 431.8v8.5M1360.5 431.8v8.5M1361.5 431.8v8.5M1362.5 431.8v8.5M1363.5 431.8v8.5M1364.5 431.8v8.5M1365.5 431.8v8.5M1366.5 431.8v8.5M1367.5 431.8v8.5M1368.5 431.8v8.5M1369.5 431.8v8.5M1370.5 431.8v8.5M1371.5 431.8v8.5M1398.5 431.8v8.5M1399.5 431.8v8.5M1403.5 431.8v8.5M1407.5 431.8v8.5M1409.5 431.8v8.5M1411.5 431.8v8.5M1412.5 431.8v8.5M1414.5 431.8v8.5M1415.5 431.8v8.5M1418.5 431.8v8.5M1419.5 431.8v8.5M1421.5 431.8v8.5M1423.5 431.8v8.5M1424.5 431.8v8.5M1425.5 431.8v8.5M1428.5 431.8v8.5M1430.5 431.8v8.5M1491.5 431.8v8.5M1497.5 431.8v8.5" stroke="#007a64" stroke-opacity="1.0" stroke-width="1"/>
<path d="M1233.8 140V440.6H1533.3" fill="none" stroke="#000" stroke-width="1.6" stroke-linejoin="round"/>
<path d="M1284.8 440.6v3.8M1345.7 440.6v3.8M1406.4 440.6v3.8M1467.2 440.6v3.8M1528.1 440.6v3.8M1233.8 427.7h-3.8M1233.8 363.1h-3.8M1233.8 298.4h-3.8M1233.8 233.8h-3.8M1233.8 169h-3.8" stroke="#333" stroke-width="1.1" fill="none"/>
<text class="tl" x="1284.8" y="457.9" text-anchor="middle">12</text>
<text class="tl" x="1345.7" y="457.9" text-anchor="middle">13</text>
<text class="tl" x="1406.4" y="457.9" text-anchor="middle">14</text>
<text class="tl" x="1467.2" y="457.9" text-anchor="middle">15</text>
<text class="tl" x="1528.1" y="457.9" text-anchor="middle">16</text>
<text class="tl" x="1227.2" y="432.3" text-anchor="end">0.00</text>
<text class="tl" x="1227.2" y="367.7" text-anchor="end">0.01</text>
<text class="tl" x="1227.2" y="303" text-anchor="end">0.02</text>
<text class="tl" x="1227.2" y="238.4" text-anchor="end">0.03</text>
<text class="tl" x="1227.2" y="173.6" text-anchor="end">0.04</text>
<text class="tt" x="1383.5" y="125.6" text-anchor="middle">Sea Surface Temperature (°C)</text>
<polygon points="85,538.3 112.3,625.5 139.5,625.1 166.8,675.5 194.1,706.8 221.3,742.9 248.6,737 275.9,744.3 303.2,752.2 330.4,732.8 357.7,694.3 357.7,810.6 330.4,810.6 303.2,810.6 275.9,810 248.6,806.8 221.3,806.2 194.1,797.9 166.8,791.6 139.5,772.5 112.3,775 85,769.7" fill="#67c8b8"/>
<polyline points="85,710.3 112.3,710.3 139.5,724.5 166.8,757.2 194.1,774.1 221.3,786.6 248.6,789.5 275.9,798.5 303.2,802.7 330.4,803.7 357.7,802.7" fill="none" stroke="#00765f" stroke-width="2.5" stroke-linejoin="round"/>
<path d="M257.5 815.4v8.5M277.5 815.4v8.5M332.5 815.4v8.5M335.5 815.4v8.5M336.5 815.4v8.5M337.5 815.4v8.5M344.5 815.4v8.5M346.5 815.4v8.5M349.5 815.4v8.5M350.5 815.4v8.5M354.5 815.4v8.5M355.5 815.4v8.5M356.5 815.4v8.5M357.5 815.4v8.5" stroke="#007a64" stroke-opacity="0.12" stroke-width="1"/>
<path d="M269.5 815.4v8.5M276.5 815.4v8.5M290.5 815.4v8.5M298.5 815.4v8.5M302.5 815.4v8.5M315.5 815.4v8.5M318.5 815.4v8.5M319.5 815.4v8.5M320.5 815.4v8.5M334.5 815.4v8.5M338.5 815.4v8.5M339.5 815.4v8.5M340.5 815.4v8.5M341.5 815.4v8.5M343.5 815.4v8.5M351.5 815.4v8.5M358.5 815.4v8.5" stroke="#007a64" stroke-opacity="0.2" stroke-width="1"/>
<path d="M286.5 815.4v8.5M294.5 815.4v8.5M295.5 815.4v8.5M300.5 815.4v8.5M305.5 815.4v8.5M309.5 815.4v8.5M314.5 815.4v8.5M321.5 815.4v8.5M322.5 815.4v8.5M324.5 815.4v8.5M326.5 815.4v8.5M329.5 815.4v8.5M348.5 815.4v8.5M352.5 815.4v8.5M353.5 815.4v8.5" stroke="#007a64" stroke-opacity="0.3" stroke-width="1"/>
<path d="M272.5 815.4v8.5M279.5 815.4v8.5M297.5 815.4v8.5M304.5 815.4v8.5M306.5 815.4v8.5M308.5 815.4v8.5M312.5 815.4v8.5M313.5 815.4v8.5M317.5 815.4v8.5M325.5 815.4v8.5M328.5 815.4v8.5M330.5 815.4v8.5M331.5 815.4v8.5M333.5 815.4v8.5M342.5 815.4v8.5" stroke="#007a64" stroke-opacity="0.4" stroke-width="1"/>
<path d="M186.5 815.4v8.5M215.5 815.4v8.5M247.5 815.4v8.5M260.5 815.4v8.5M267.5 815.4v8.5M273.5 815.4v8.5M275.5 815.4v8.5M280.5 815.4v8.5M284.5 815.4v8.5M287.5 815.4v8.5M289.5 815.4v8.5M291.5 815.4v8.5M293.5 815.4v8.5M296.5 815.4v8.5M299.5 815.4v8.5M307.5 815.4v8.5M310.5 815.4v8.5M311.5 815.4v8.5M316.5 815.4v8.5M323.5 815.4v8.5M327.5 815.4v8.5M347.5 815.4v8.5" stroke="#007a64" stroke-opacity="0.5" stroke-width="1"/>
<path d="M216.5 815.4v8.5M218.5 815.4v8.5M220.5 815.4v8.5M222.5 815.4v8.5M227.5 815.4v8.5M228.5 815.4v8.5M229.5 815.4v8.5M233.5 815.4v8.5M235.5 815.4v8.5M241.5 815.4v8.5M242.5 815.4v8.5M246.5 815.4v8.5M249.5 815.4v8.5M250.5 815.4v8.5M251.5 815.4v8.5M256.5 815.4v8.5M258.5 815.4v8.5M266.5 815.4v8.5M268.5 815.4v8.5M270.5 815.4v8.5M274.5 815.4v8.5M278.5 815.4v8.5M281.5 815.4v8.5M282.5 815.4v8.5M283.5 815.4v8.5M285.5 815.4v8.5M288.5 815.4v8.5M292.5 815.4v8.5" stroke="#007a64" stroke-opacity="0.6" stroke-width="1"/>
<path d="M127.5 815.4v8.5M129.5 815.4v8.5M130.5 815.4v8.5M140.5 815.4v8.5M185.5 815.4v8.5M187.5 815.4v8.5M189.5 815.4v8.5M193.5 815.4v8.5M199.5 815.4v8.5M200.5 815.4v8.5M203.5 815.4v8.5M206.5 815.4v8.5M208.5 815.4v8.5M209.5 815.4v8.5M211.5 815.4v8.5M214.5 815.4v8.5M217.5 815.4v8.5M223.5 815.4v8.5M225.5 815.4v8.5M226.5 815.4v8.5M230.5 815.4v8.5M231.5 815.4v8.5M238.5 815.4v8.5M239.5 815.4v8.5M240.5 815.4v8.5M243.5 815.4v8.5M245.5 815.4v8.5M252.5 815.4v8.5M254.5 815.4v8.5M255.5 815.4v8.5M259.5 815.4v8.5M261.5 815.4v8.5M262.5 815.4v8.5M264.5 815.4v8.5M265.5 815.4v8.5M271.5 815.4v8.5M301.5 815.4v8.5M303.5 815.4v8.5" stroke="#007a64" stroke-opacity="0.7" stroke-width="1"/>
<path d="M131.5 815.4v8.5M134.5 815.4v8.5M136.5 815.4v8.5M138.5 815.4v8.5M139.5 815.4v8.5M144.5 815.4v8.5M145.5 815.4v8.5M146.5 815.4v8.5M148.5 815.4v8.5M149.5 815.4v8.5M152.5 815.4v8.5M157.5 815.4v8.5M158.5 815.4v8.5M159.5 815.4v8.5M161.5 815.4v8.5M165.5 815.4v8.5M166.5 815.4v8.5M167.5 815.4v8.5M168.5 815.4v8.5M173.5 815.4v8.5M174.5 815.4v8.5M176.5 815.4v8.5M177.5 815.4v8.5M178.5 815.4v8.5M180.5 815.4v8.5M181.5 815.4v8.5M182.5 815.4v8.5M183.5 815.4v8.5M184.5 815.4v8.5M188.5 815.4v8.5M190.5 815.4v8.5M191.5 815.4v8.5M192.5 815.4v8.5M196.5 815.4v8.5M197.5 815.4v8.5M198.5 815.4v8.5M201.5 815.4v8.5M202.5 815.4v8.5M204.5 815.4v8.5M205.5 815.4v8.5M207.5 815.4v8.5M210.5 815.4v8.5M213.5 815.4v8.5M219.5 815.4v8.5M224.5 815.4v8.5M232.5 815.4v8.5M234.5 815.4v8.5M236.5 815.4v8.5M237.5 815.4v8.5M244.5 815.4v8.5M248.5 815.4v8.5M253.5 815.4v8.5M263.5 815.4v8.5" stroke="#007a64" stroke-opacity="0.8" stroke-width="1"/>
<path d="M85.5 815.4v8.5M99.5 815.4v8.5M122.5 815.4v8.5M123.5 815.4v8.5M124.5 815.4v8.5M125.5 815.4v8.5M126.5 815.4v8.5M128.5 815.4v8.5M132.5 815.4v8.5M135.5 815.4v8.5M141.5 815.4v8.5M142.5 815.4v8.5M143.5 815.4v8.5M147.5 815.4v8.5M150.5 815.4v8.5M151.5 815.4v8.5M153.5 815.4v8.5M154.5 815.4v8.5M155.5 815.4v8.5M156.5 815.4v8.5M160.5 815.4v8.5M163.5 815.4v8.5M164.5 815.4v8.5M169.5 815.4v8.5M170.5 815.4v8.5M171.5 815.4v8.5M172.5 815.4v8.5M175.5 815.4v8.5M179.5 815.4v8.5M194.5 815.4v8.5M195.5 815.4v8.5M212.5 815.4v8.5M221.5 815.4v8.5" stroke="#007a64" stroke-opacity="0.9" stroke-width="1"/>
<path d="M84.5 815.4v8.5M86.5 815.4v8.5M87.5 815.4v8.5M88.5 815.4v8.5M89.5 815.4v8.5M90.5 815.4v8.5M91.5 815.4v8.5M92.5 815.4v8.5M93.5 815.4v8.5M94.5 815.4v8.5M95.5 815.4v8.5M96.5 815.4v8.5M97.5 815.4v8.5M98.5 815.4v8.5M100.5 815.4v8.5M101.5 815.4v8.5M102.5 815.4v8.5M103.5 815.4v8.5M104.5 815.4v8.5M105.5 815.4v8.5M106.5 815.4v8.5M107.5 815.4v8.5M108.5 815.4v8.5M109.5 815.4v8.5M110.5 815.4v8.5M111.5 815.4v8.5M112.5 815.4v8.5M113.5 815.4v8.5M114.5 815.4v8.5M115.5 815.4v8.5M116.5 815.4v8.5M117.5 815.4v8.5M118.5 815.4v8.5M119.5 815.4v8.5M120.5 815.4v8.5M121.5 815.4v8.5M133.5 815.4v8.5M137.5 815.4v8.5M162.5 815.4v8.5" stroke="#007a64" stroke-opacity="1.0" stroke-width="1"/>
<path d="M71.5 524.4V824.2H371.2" fill="none" stroke="#000" stroke-width="1.6" stroke-linejoin="round"/>
<path d="M84.6 824.2v3.8M142.3 824.2v3.8M199.7 824.2v3.8M257.4 824.2v3.8M315 824.2v3.8M71.5 811h-3.8M71.5 720.8h-3.8M71.5 630.3h-3.8M71.5 540h-3.8" stroke="#333" stroke-width="1.1" fill="none"/>
<text class="tl" x="84.6" y="841.5" text-anchor="middle">0</text>
<text class="tl" x="142.3" y="841.5" text-anchor="middle">25</text>
<text class="tl" x="199.7" y="841.5" text-anchor="middle">50</text>
<text class="tl" x="257.4" y="841.5" text-anchor="middle">75</text>
<text class="tl" x="315" y="841.5" text-anchor="middle">100</text>
<text class="tl" x="64.9" y="815.6" text-anchor="end">0.00</text>
<text class="tl" x="64.9" y="725.4" text-anchor="end">0.01</text>
<text class="tl" x="64.9" y="634.9" text-anchor="end">0.02</text>
<text class="tl" x="64.9" y="544.6" text-anchor="end">0.03</text>
<text class="tt" x="221.3" y="509.8" text-anchor="middle">Distance to closest front (kilometers)</text>
<text class="yl" transform="translate(13.2 674.3) rotate(-90)" text-anchor="middle">Probability of occurrence</text>
<polygon points="470.4,784.5 497.7,767.9 525,758.9 552.3,758.9 579.6,664.7 607,655.3 634.3,618.2 661.6,583.2 688.9,623.8 716.2,577.5 743.5,538.6 743.5,803.7 716.2,797.5 688.9,794.8 661.6,794.3 634.3,801 607,801.6 579.6,799.1 552.3,809.4 525,806.2 497.7,806.8 470.4,810.6" fill="#67c8b8"/>
<polyline points="470.4,801.6 497.7,796.8 525,797.5 552.3,794.3 579.6,768.3 607,762.4 634.3,757.4 661.6,735.6 688.9,740.6 716.2,738.5 743.5,740.1" fill="none" stroke="#00765f" stroke-width="2.5" stroke-linejoin="round"/>
<path d="M602.5 815.4v8.5M604.5 815.4v8.5M620.5 815.4v8.5M621.5 815.4v8.5M625.5 815.4v8.5M626.5 815.4v8.5M627.5 815.4v8.5M630.5 815.4v8.5M631.5 815.4v8.5M635.5 815.4v8.5M636.5 815.4v8.5M638.5 815.4v8.5M646.5 815.4v8.5M647.5 815.4v8.5M652.5 815.4v8.5M654.5 815.4v8.5M663.5 815.4v8.5M669.5 815.4v8.5M675.5 815.4v8.5M676.5 815.4v8.5M677.5 815.4v8.5M684.5 815.4v8.5M686.5 815.4v8.5M693.5 815.4v8.5M694.5 815.4v8.5M696.5 815.4v8.5M696.5 815.4v8.5M697.5 815.4v8.5M699.5 815.4v8.5M701.5 815.4v8.5M726.5 815.4v8.5M727.5 815.4v8.5M743.5 815.4v8.5" stroke="#007a64" stroke-opacity="0.12" stroke-width="1"/>
<path d="M587.5 815.4v8.5M593.5 815.4v8.5M598.5 815.4v8.5M600.5 815.4v8.5M603.5 815.4v8.5M606.5 815.4v8.5M614.5 815.4v8.5M617.5 815.4v8.5M619.5 815.4v8.5M622.5 815.4v8.5M629.5 815.4v8.5M637.5 815.4v8.5M640.5 815.4v8.5M641.5 815.4v8.5M641.5 815.4v8.5M642.5 815.4v8.5M643.5 815.4v8.5M655.5 815.4v8.5M656.5 815.4v8.5M660.5 815.4v8.5M666.5 815.4v8.5M668.5 815.4v8.5M670.5 815.4v8.5M671.5 815.4v8.5M672.5 815.4v8.5M673.5 815.4v8.5M678.5 815.4v8.5M682.5 815.4v8.5M687.5 815.4v8.5M702.5 815.4v8.5M712.5 815.4v8.5M731.5 815.4v8.5M732.5 815.4v8.5M733.5 815.4v8.5M735.5 815.4v8.5M740.5 815.4v8.5M741.5 815.4v8.5" stroke="#007a64" stroke-opacity="0.2" stroke-width="1"/>
<path d="M594.5 815.4v8.5M600.5 815.4v8.5M601.5 815.4v8.5M605.5 815.4v8.5M608.5 815.4v8.5M609.5 815.4v8.5M610.5 815.4v8.5M615.5 815.4v8.5M623.5 815.4v8.5M628.5 815.4v8.5M633.5 815.4v8.5M645.5 815.4v8.5M649.5 815.4v8.5M650.5 815.4v8.5M651.5 815.4v8.5M653.5 815.4v8.5M658.5 815.4v8.5M659.5 815.4v8.5M662.5 815.4v8.5M664.5 815.4v8.5M665.5 815.4v8.5M667.5 815.4v8.5M667.5 815.4v8.5M674.5 815.4v8.5M678.5 815.4v8.5M679.5 815.4v8.5M681.5 815.4v8.5M683.5 815.4v8.5M685.5 815.4v8.5M692.5 815.4v8.5M695.5 815.4v8.5M700.5 815.4v8.5M703.5 815.4v8.5M704.5 815.4v8.5M706.5 815.4v8.5M709.5 815.4v8.5M716.5 815.4v8.5M719.5 815.4v8.5M720.5 815.4v8.5M723.5 815.4v8.5M725.5 815.4v8.5M728.5 815.4v8.5M736.5 815.4v8.5M738.5 815.4v8.5" stroke="#007a64" stroke-opacity="0.3" stroke-width="1"/>
<path d="M568.5 815.4v8.5M574.5 815.4v8.5M588.5 815.4v8.5M595.5 815.4v8.5M599.5 815.4v8.5M607.5 815.4v8.5M657.5 815.4v8.5M688.5 815.4v8.5M689.5 815.4v8.5M708.5 815.4v8.5M714.5 815.4v8.5M722.5 815.4v8.5M729.5 815.4v8.5M730.5 815.4v8.5M734.5 815.4v8.5M742.5 815.4v8.5" stroke="#007a64" stroke-opacity="0.4" stroke-width="1"/>
<path d="M575.5 815.4v8.5M583.5 815.4v8.5M585.5 815.4v8.5M586.5 815.4v8.5M589.5 815.4v8.5M590.5 815.4v8.5M591.5 815.4v8.5M592.5 815.4v8.5M597.5 815.4v8.5M611.5 815.4v8.5M612.5 815.4v8.5M616.5 815.4v8.5M618.5 815.4v8.5M644.5 815.4v8.5M648.5 815.4v8.5M680.5 815.4v8.5M690.5 815.4v8.5M691.5 815.4v8.5M699.5 815.4v8.5M707.5 815.4v8.5M710.5 815.4v8.5M711.5 815.4v8.5M717.5 815.4v8.5M718.5 815.4v8.5M722.5 815.4v8.5M724.5 815.4v8.5M737.5 815.4v8.5M739.5 815.4v8.5" stroke="#007a64" stroke-opacity="0.5" stroke-width="1"/>
<path d="M563.5 815.4v8.5M566.5 815.4v8.5M567.5 815.4v8.5M576.5 815.4v8.5M577.5 815.4v8.5M584.5 815.4v8.5M596.5 815.4v8.5M713.5 815.4v8.5M721.5 815.4v8.5" stroke="#007a64" stroke-opacity="0.6" stroke-width="1"/>
<path d="M562.5 815.4v8.5M564.5 815.4v8.5M569.5 815.4v8.5M570.5 815.4v8.5M571.5 815.4v8.5M573.5 815.4v8.5M579.5 815.4v8.5M580.5 815.4v8.5M581.5 815.4v8.5M582.5 815.4v8.5M705.5 815.4v8.5M715.5 815.4v8.5" stroke="#007a64" stroke-opacity="0.7" stroke-width="1"/>
<path d="M553.5 815.4v8.5M554.5 815.4v8.5M560.5 815.4v8.5M565.5 815.4v8.5M572.5 815.4v8.5M578.5 815.4v8.5" stroke="#007a64" stroke-opacity="0.8" stroke-width="1"/>
<path d="M478.5 815.4v8.5M488.5 815.4v8.5M545.5 815.4v8.5M546.5 815.4v8.5M547.5 815.4v8.5M548.5 815.4v8.5M549.5 815.4v8.5M550.5 815.4v8.5M551.5 815.4v8.5M552.5 815.4v8.5M555.5 815.4v8.5M556.5 815.4v8.5M557.5 815.4v8.5M558.5 815.4v8.5M559.5 815.4v8.5M561.5 815.4v8.5M562.5 815.4v8.5" stroke="#007a64" stroke-opacity="0.9" stroke-width="1"/>
<path d="M470.5 815.4v8.5M471.5 815.4v8.5M472.5 815.4v8.5M473.5 815.4v8.5M474.5 815.4v8.5M475.5 815.4v8.5M476.5 815.4v8.5M477.5 815.4v8.5M479.5 815.4v8.5M480.5 815.4v8.5M481.5 815.4v8.5M482.5 815.4v8.5M483.5 815.4v8.5M484.5 815.4v8.5M485.5 815.4v8.5M486.5 815.4v8.5M487.5 815.4v8.5M489.5 815.4v8.5M490.5 815.4v8.5M491.5 815.4v8.5M492.5 815.4v8.5M493.5 815.4v8.5M494.5 815.4v8.5M495.5 815.4v8.5M496.5 815.4v8.5M497.5 815.4v8.5M498.5 815.4v8.5M499.5 815.4v8.5M500.5 815.4v8.5M501.5 815.4v8.5M502.5 815.4v8.5M503.5 815.4v8.5M504.5 815.4v8.5M505.5 815.4v8.5M506.5 815.4v8.5M507.5 815.4v8.5M508.5 815.4v8.5M509.5 815.4v8.5M510.5 815.4v8.5M511.5 815.4v8.5M512.5 815.4v8.5M513.5 815.4v8.5M514.5 815.4v8.5M515.5 815.4v8.5M516.5 815.4v8.5M517.5 815.4v8.5M518.5 815.4v8.5M519.5 815.4v8.5M520.5 815.4v8.5M521.5 815.4v8.5M522.5 815.4v8.5M523.5 815.4v8.5M524.5 815.4v8.5M525.5 815.4v8.5M526.5 815.4v8.5M527.5 815.4v8.5M528.5 815.4v8.5M529.5 815.4v8.5M530.5 815.4v8.5M531.5 815.4v8.5M532.5 815.4v8.5M533.5 815.4v8.5M534.5 815.4v8.5M535.5 815.4v8.5M536.5 815.4v8.5M537.5 815.4v8.5M538.5 815.4v8.5M539.5 815.4v8.5M540.5 815.4v8.5M541.5 815.4v8.5M542.5 815.4v8.5M543.5 815.4v8.5M544.5 815.4v8.5" stroke="#007a64" stroke-opacity="1.0" stroke-width="1"/>
<path d="M457.1 524.4V824.2H756.7" fill="none" stroke="#000" stroke-width="1.6" stroke-linejoin="round"/>
<path d="M469 824.2v3.8M526.3 824.2v3.8M584.3 824.2v3.8M642 824.2v3.8M699.7 824.2v3.8M457.1 816.2h-3.8M457.1 749.9h-3.8M457.1 683.4h-3.8M457.1 617.1h-3.8M457.1 550.4h-3.8" stroke="#333" stroke-width="1.1" fill="none"/>
<text class="tl" x="469" y="841.5" text-anchor="middle">10</text>
<text class="tl" x="526.3" y="841.5" text-anchor="middle">20</text>
<text class="tl" x="584.3" y="841.5" text-anchor="middle">30</text>
<text class="tl" x="642" y="841.5" text-anchor="middle">40</text>
<text class="tl" x="699.7" y="841.5" text-anchor="middle">50</text>
<text class="tl" x="450.5" y="820.8" text-anchor="end">0.00</text>
<text class="tl" x="450.5" y="754.5" text-anchor="end">0.02</text>
<text class="tl" x="450.5" y="688" text-anchor="end">0.04</text>
<text class="tl" x="450.5" y="621.7" text-anchor="end">0.06</text>
<text class="tl" x="450.5" y="555" text-anchor="end">0.08</text>
<text class="tt" x="606.9" y="509.8" text-anchor="middle">Mixed Layer Depth (meters)</text>
<polygon points="856.1,538.6 883.4,629.2 910.6,686.4 937.9,715.1 965.1,730.8 992.4,746.8 1019.7,746.8 1046.9,763.1 1074.2,759.3 1101.4,757.4 1128.7,714.1 1128.7,810.6 1101.4,804.3 1074.2,805.2 1046.9,809.4 1019.7,805.8 992.4,804.3 965.1,808.9 937.9,806.4 910.6,803.7 883.4,803.7 856.1,803.3" fill="#67c8b8"/>
<polyline points="856.1,741.2 883.4,762.4 910.6,769.3 937.9,781.8 965.1,788.1 992.4,786.4 1019.7,787.7 1046.9,794.3 1074.2,792.3 1101.4,789.1 1128.7,787" fill="none" stroke="#00765f" stroke-width="2.5" stroke-linejoin="round"/>
<path d="M865.5 815.4v8.5M869.5 815.4v8.5M875.5 815.4v8.5M878.5 815.4v8.5M879.5 815.4v8.5M886.5 815.4v8.5M1117.5 815.4v8.5M1120.5 815.4v8.5" stroke="#007a64" stroke-opacity="0.12" stroke-width="1"/>
<path d="M861.5 815.4v8.5M868.5 815.4v8.5M877.5 815.4v8.5M881.5 815.4v8.5M884.5 815.4v8.5M898.5 815.4v8.5M935.5 815.4v8.5" stroke="#007a64" stroke-opacity="0.2" stroke-width="1"/>
<path d="M856.5 815.4v8.5M857.5 815.4v8.5M858.5 815.4v8.5M860.5 815.4v8.5M863.5 815.4v8.5M864.5 815.4v8.5M866.5 815.4v8.5M867.5 815.4v8.5M871.5 815.4v8.5M872.5 815.4v8.5M873.5 815.4v8.5M876.5 815.4v8.5M880.5 815.4v8.5M882.5 815.4v8.5M885.5 815.4v8.5M889.5 815.4v8.5M897.5 815.4v8.5M904.5 815.4v8.5M905.5 815.4v8.5M911.5 815.4v8.5M927.5 815.4v8.5M949.5 815.4v8.5" stroke="#007a64" stroke-opacity="0.3" stroke-width="1"/>
<path d="M855.5 815.4v8.5M862.5 815.4v8.5M888.5 815.4v8.5M903.5 815.4v8.5M918.5 815.4v8.5M921.5 815.4v8.5M923.5 815.4v8.5M941.5 815.4v8.5M948.5 815.4v8.5M1122.5 815.4v8.5" stroke="#007a64" stroke-opacity="0.4" stroke-width="1"/>
<path d="M859.5 815.4v8.5M864.5 815.4v8.5M879.5 815.4v8.5M883.5 815.4v8.5M887.5 815.4v8.5M890.5 815.4v8.5M894.5 815.4v8.5M896.5 815.4v8.5M901.5 815.4v8.5M902.5 815.4v8.5M906.5 815.4v8.5M909.5 815.4v8.5M910.5 815.4v8.5M916.5 815.4v8.5M919.5 815.4v8.5M920.5 815.4v8.5M929.5 815.4v8.5M930.5 815.4v8.5M933.5 815.4v8.5M938.5 815.4v8.5M939.5 815.4v8.5M942.5 815.4v8.5M944.5 815.4v8.5M946.5 815.4v8.5M947.5 815.4v8.5M950.5 815.4v8.5M959.5 815.4v8.5M991.5 815.4v8.5M1118.5 815.4v8.5M1121.5 815.4v8.5M1126.5 815.4v8.5" stroke="#007a64" stroke-opacity="0.5" stroke-width="1"/>
<path d="M895.5 815.4v8.5M899.5 815.4v8.5M907.5 815.4v8.5M908.5 815.4v8.5M914.5 815.4v8.5M915.5 815.4v8.5M917.5 815.4v8.5M924.5 815.4v8.5M925.5 815.4v8.5M926.5 815.4v8.5M932.5 815.4v8.5M936.5 815.4v8.5M938.5 815.4v8.5M940.5 815.4v8.5M945.5 815.4v8.5M951.5 815.4v8.5M955.5 815.4v8.5M964.5 815.4v8.5M968.5 815.4v8.5M971.5 815.4v8.5M976.5 815.4v8.5M977.5 815.4v8.5M984.5 815.4v8.5M998.5 815.4v8.5M1002.5 815.4v8.5M1016.5 815.4v8.5M1020.5 815.4v8.5M1041.5 815.4v8.5M1119.5 815.4v8.5M1122.5 815.4v8.5M1123.5 815.4v8.5M1127.5 815.4v8.5" stroke="#007a64" stroke-opacity="0.6" stroke-width="1"/>
<path d="M900.5 815.4v8.5M912.5 815.4v8.5M913.5 815.4v8.5M928.5 815.4v8.5M931.5 815.4v8.5M934.5 815.4v8.5M937.5 815.4v8.5M943.5 815.4v8.5M950.5 815.4v8.5M952.5 815.4v8.5M953.5 815.4v8.5M954.5 815.4v8.5M956.5 815.4v8.5M958.5 815.4v8.5M960.5 815.4v8.5M961.5 815.4v8.5M966.5 815.4v8.5M972.5 815.4v8.5M975.5 815.4v8.5M978.5 815.4v8.5M981.5 815.4v8.5M982.5 815.4v8.5M983.5 815.4v8.5M986.5 815.4v8.5M987.5 815.4v8.5M990.5 815.4v8.5M994.5 815.4v8.5M997.5 815.4v8.5M1001.5 815.4v8.5M1003.5 815.4v8.5M1004.5 815.4v8.5M1005.5 815.4v8.5M1007.5 815.4v8.5M1011.5 815.4v8.5M1012.5 815.4v8.5M1013.5 815.4v8.5M1019.5 815.4v8.5M1021.5 815.4v8.5M1032.5 815.4v8.5M1045.5 815.4v8.5M1052.5 815.4v8.5M1053.5 815.4v8.5M1054.5 815.4v8.5M1062.5 815.4v8.5M1064.5 815.4v8.5M1071.5 815.4v8.5M1077.5 815.4v8.5M1124.5 815.4v8.5M1125.5 815.4v8.5M1128.5 815.4v8.5" stroke="#007a64" stroke-opacity="0.7" stroke-width="1"/>
<path d="M962.5 815.4v8.5M963.5 815.4v8.5M965.5 815.4v8.5M967.5 815.4v8.5M969.5 815.4v8.5M970.5 815.4v8.5M973.5 815.4v8.5M974.5 815.4v8.5M979.5 815.4v8.5M980.5 815.4v8.5M985.5 815.4v8.5M988.5 815.4v8.5M989.5 815.4v8.5M992.5 815.4v8.5M995.5 815.4v8.5M996.5 815.4v8.5M1000.5 815.4v8.5M1006.5 815.4v8.5M1008.5 815.4v8.5M1009.5 815.4v8.5M1010.5 815.4v8.5M1014.5 815.4v8.5M1015.5 815.4v8.5M1017.5 815.4v8.5M1018.5 815.4v8.5M1022.5 815.4v8.5M1023.5 815.4v8.5M1039.5 815.4v8.5M1040.5 815.4v8.5M1042.5 815.4v8.5M1043.5 815.4v8.5M1044.5 815.4v8.5M1048.5 815.4v8.5M1050.5 815.4v8.5M1058.5 815.4v8.5M1060.5 815.4v8.5M1061.5 815.4v8.5M1065.5 815.4v8.5M1067.5 815.4v8.5M1070.5 815.4v8.5M1076.5 815.4v8.5" stroke="#007a64" stroke-opacity="0.8" stroke-width="1"/>
<path d="M957.5 815.4v8.5M993.5 815.4v8.5M993.5 815.4v8.5M999.5 815.4v8.5M1022.5 815.4v8.5M1024.5 815.4v8.5M1025.5 815.4v8.5M1026.5 815.4v8.5M1027.5 815.4v8.5M1028.5 815.4v8.5M1029.5 815.4v8.5M1030.5 815.4v8.5M1031.5 815.4v8.5M1033.5 815.4v8.5M1034.5 815.4v8.5M1035.5 815.4v8.5M1036.5 815.4v8.5M1037.5 815.4v8.5M1038.5 815.4v8.5M1040.5 815.4v8.5M1046.5 815.4v8.5M1047.5 815.4v8.5M1049.5 815.4v8.5M1051.5 815.4v8.5M1055.5 815.4v8.5M1056.5 815.4v8.5M1057.5 815.4v8.5M1059.5 815.4v8.5M1063.5 815.4v8.5M1066.5 815.4v8.5M1068.5 815.4v8.5M1069.5 815.4v8.5M1072.5 815.4v8.5M1073.5 815.4v8.5M1074.5 815.4v8.5M1075.5 815.4v8.5M1078.5 815.4v8.5M1079.5 815.4v8.5M1086.5 815.4v8.5M1091.5 815.4v8.5M1093.5 815.4v8.5M1096.5 815.4v8.5M1107.5 815.4v8.5M1112.5 815.4v8.5M1115.5 815.4v8.5" stroke="#007a64" stroke-opacity="0.9" stroke-width="1"/>
<path d="M1079.5 815.4v8.5M1080.5 815.4v8.5M1081.5 815.4v8.5M1082.5 815.4v8.5M1083.5 815.4v8.5M1084.5 815.4v8.5M1085.5 815.4v8.5M1087.5 815.4v8.5M1088.5 815.4v8.5M1089.5 815.4v8.5M1090.5 815.4v8.5M1092.5 815.4v8.5M1094.5 815.4v8.5M1095.5 815.4v8.5M1097.5 815.4v8.5M1098.5 815.4v8.5M1099.5 815.4v8.5M1100.5 815.4v8.5M1101.5 815.4v8.5M1102.5 815.4v8.5M1103.5 815.4v8.5M1104.5 815.4v8.5M1105.5 815.4v8.5M1106.5 815.4v8.5M1108.5 815.4v8.5M1109.5 815.4v8.5M1110.5 815.4v8.5M1111.5 815.4v8.5M1113.5 815.4v8.5M1114.5 815.4v8.5M1116.5 815.4v8.5M1117.5 815.4v8.5" stroke="#007a64" stroke-opacity="1.0" stroke-width="1"/>
<path d="M842.5 524.4V824.2H1142.1" fill="none" stroke="#000" stroke-width="1.6" stroke-linejoin="round"/>
<path d="M905 824.2v3.8M979.5 824.2v3.8M1054.5 824.2v3.8M1129.1 824.2v3.8M842.5 816.6h-3.8M842.5 722.4h-3.8M842.5 628.2h-3.8M842.5 533.3h-3.8" stroke="#333" stroke-width="1.1" fill="none"/>
<text class="tl" x="905" y="841.5" text-anchor="middle">34.4</text>
<text class="tl" x="979.5" y="841.5" text-anchor="middle">34.8</text>
<text class="tl" x="1054.5" y="841.5" text-anchor="middle">35.2</text>
<text class="tl" x="1129.1" y="841.5" text-anchor="middle">35.6</text>
<text class="tl" x="835.9" y="821.2" text-anchor="end">0.00</text>
<text class="tl" x="835.9" y="727" text-anchor="end">0.02</text>
<text class="tl" x="835.9" y="632.8" text-anchor="end">0.04</text>
<text class="tl" x="835.9" y="537.9" text-anchor="end">0.06</text>
<text class="tt" x="992.3" y="509.8" text-anchor="middle">Sea Surface Salinity (g.kg<tspan class="sup" dy="-6">-1</tspan><tspan dy="6">)</tspan></text>
<line x1="1315.4" y1="705" x2="1315.4" y2="754.8" stroke="#645432" stroke-width="2.6"/>
<line x1="1315.4" y1="787.9" x2="1315.4" y2="810" stroke="#645432" stroke-width="2.6"/>
<circle cx="1315.4" cy="700" r="2.4" fill="#826932" fill-opacity="0.6"/>
<circle cx="1315.4" cy="702" r="2.4" fill="#826932" fill-opacity="0.6"/>
<circle cx="1315.4" cy="704.5" r="2.4" fill="#826932" fill-opacity="0.6"/>
<circle cx="1315.4" cy="695.2" r="2.4" fill="#826932" fill-opacity="0.6"/>
<circle cx="1315.4" cy="685.4" r="2.4" fill="#826932" fill-opacity="0.6"/>
<circle cx="1315.4" cy="686.5" r="2.4" fill="#826932" fill-opacity="0.6"/>
<circle cx="1315.4" cy="687.4" r="2.4" fill="#826932" fill-opacity="0.6"/>
<circle cx="1315.4" cy="670.3" r="2.4" fill="#826932" fill-opacity="0.6"/>
<rect x="1288" y="754.8" width="54.9" height="33.1" fill="#967f4a" stroke="#5e4d28" stroke-width="2"/>
<line x1="1288.9" y1="775.4" x2="1342" y2="775.4" stroke="#645432" stroke-width="4.3"/>
<circle cx="1315.4" cy="768.9" r="4.9" fill="#ffffff" stroke="#5a4a28" stroke-width="1.9"/>
<line x1="1451.9" y1="617" x2="1451.9" y2="687.6" stroke="#645432" stroke-width="2.6"/>
<line x1="1451.9" y1="735.4" x2="1451.9" y2="783.9" stroke="#645432" stroke-width="2.6"/>
<circle cx="1451.9" cy="537.5" r="2.4" fill="#826932" fill-opacity="0.6"/>
<circle cx="1451.9" cy="540" r="2.4" fill="#826932" fill-opacity="0.6"/>
<circle cx="1451.9" cy="542" r="2.4" fill="#826932" fill-opacity="0.6"/>
<circle cx="1451.9" cy="551.5" r="2.4" fill="#826932" fill-opacity="0.6"/>
<circle cx="1451.9" cy="554" r="2.4" fill="#826932" fill-opacity="0.6"/>
<circle cx="1451.9" cy="556" r="2.4" fill="#826932" fill-opacity="0.6"/>
<circle cx="1451.9" cy="569" r="2.4" fill="#826932" fill-opacity="0.6"/>
<circle cx="1451.9" cy="571" r="2.4" fill="#826932" fill-opacity="0.6"/>
<circle cx="1451.9" cy="589.8" r="2.4" fill="#826932" fill-opacity="0.6"/>
<circle cx="1451.9" cy="596.8" r="2.4" fill="#826932" fill-opacity="0.6"/>
<circle cx="1451.9" cy="600.1" r="2.4" fill="#826932" fill-opacity="0.6"/>
<circle cx="1451.9" cy="602.2" r="2.4" fill="#826932" fill-opacity="0.6"/>
<circle cx="1451.9" cy="605.8" r="2.4" fill="#826932" fill-opacity="0.6"/>
<circle cx="1451.9" cy="611" r="2.4" fill="#826932" fill-opacity="0.6"/>
<circle cx="1451.9" cy="613" r="2.4" fill="#826932" fill-opacity="0.6"/>
<circle cx="1451.9" cy="615" r="2.4" fill="#826932" fill-opacity="0.6"/>
<circle cx="1451.9" cy="617" r="2.4" fill="#826932" fill-opacity="0.6"/>
<rect x="1424.6" y="687.6" width="55" height="47.8" fill="#967f4a" stroke="#5e4d28" stroke-width="2"/>
<line x1="1425.5" y1="713" x2="1478.7" y2="713" stroke="#645432" stroke-width="4.3"/>
<circle cx="1451.9" cy="708.2" r="4.9" fill="#ffffff" stroke="#5a4a28" stroke-width="1.9"/>
<path d="M1233.3 524.2V824H1533.8" fill="none" stroke="#000" stroke-width="1.6" stroke-linejoin="round"/>
<path d="M1315.4 824v3.8M1451.9 824v3.8M1233.3 758.7h-3.8M1233.3 689.6h-3.8M1233.3 620.2h-3.8M1233.3 551.1h-3.8" stroke="#333" stroke-width="1.1" fill="none"/>
<text class="tl" x="1315.4" y="841.3" text-anchor="middle">0</text>
<text class="tl" x="1451.9" y="841.3" text-anchor="middle">1</text>
<text class="tl" x="1226.7" y="763.3" text-anchor="end">0.005</text>
<text class="tl" x="1226.7" y="694.2" text-anchor="end">0.010</text>
<text class="tl" x="1226.7" y="624.8" text-anchor="end">0.015</text>
<text class="tl" x="1226.7" y="555.7" text-anchor="end">0.020</text>
<text class="tt" x="1383.5" y="509.8" text-anchor="middle">Substrate - Coarse Substrate</text>
<polygon points="85,1143.4 112.6,1057.5 140.1,1172 167.7,1218.5 195.2,1295 222.8,1296 250.4,1322.7 277.9,1302.5 305.5,1308.5 333,1304.3 360.6,1277.4 360.6,1333.5 333,1333.5 305.5,1334.1 277.9,1333.5 250.4,1333.5 222.8,1333.5 195.2,1330.6 167.7,1326.8 140.1,1284.1 112.6,1244.5 85,1318.5" fill="#67c8b8"/>
<polyline points="85,1272 112.6,1182.6 140.1,1233 167.7,1296.6 195.2,1320.6 222.8,1326.8 250.4,1332.1 277.9,1332.1 305.5,1333.1 333,1333.1 360.6,1333.1" fill="none" stroke="#00765f" stroke-width="2.5" stroke-linejoin="round"/>
<path d="M329.5 1338.3v8.5M331.5 1338.3v8.5M335.5 1338.3v8.5M338.5 1338.3v8.5M348.5 1338.3v8.5M352.5 1338.3v8.5M353.5 1338.3v8.5M355.5 1338.3v8.5M360.5 1338.3v8.5" stroke="#007a64" stroke-opacity="0.12" stroke-width="1"/>
<path d="M270.5 1338.3v8.5M271.5 1338.3v8.5M292.5 1338.3v8.5M330.5 1338.3v8.5M332.5 1338.3v8.5M334.5 1338.3v8.5M336.5 1338.3v8.5M345.5 1338.3v8.5M347.5 1338.3v8.5M356.5 1338.3v8.5" stroke="#007a64" stroke-opacity="0.2" stroke-width="1"/>
<path d="M248.5 1338.3v8.5M253.5 1338.3v8.5M254.5 1338.3v8.5M262.5 1338.3v8.5M272.5 1338.3v8.5M275.5 1338.3v8.5M276.5 1338.3v8.5M279.5 1338.3v8.5M285.5 1338.3v8.5M288.5 1338.3v8.5M294.5 1338.3v8.5M295.5 1338.3v8.5M298.5 1338.3v8.5M302.5 1338.3v8.5M304.5 1338.3v8.5M308.5 1338.3v8.5M311.5 1338.3v8.5M313.5 1338.3v8.5M315.5 1338.3v8.5M317.5 1338.3v8.5M320.5 1338.3v8.5M321.5 1338.3v8.5M323.5 1338.3v8.5M324.5 1338.3v8.5M326.5 1338.3v8.5M328.5 1338.3v8.5M333.5 1338.3v8.5M339.5 1338.3v8.5M340.5 1338.3v8.5M341.5 1338.3v8.5M342.5 1338.3v8.5M344.5 1338.3v8.5M349.5 1338.3v8.5M350.5 1338.3v8.5M354.5 1338.3v8.5" stroke="#007a64" stroke-opacity="0.3" stroke-width="1"/>
<path d="M171.5 1338.3v8.5M250.5 1338.3v8.5M266.5 1338.3v8.5M267.5 1338.3v8.5M281.5 1338.3v8.5M289.5 1338.3v8.5M296.5 1338.3v8.5M300.5 1338.3v8.5M301.5 1338.3v8.5M306.5 1338.3v8.5M307.5 1338.3v8.5M309.5 1338.3v8.5M310.5 1338.3v8.5M312.5 1338.3v8.5M314.5 1338.3v8.5M318.5 1338.3v8.5M319.5 1338.3v8.5M337.5 1338.3v8.5" stroke="#007a64" stroke-opacity="0.4" stroke-width="1"/>
<path d="M183.5 1338.3v8.5M216.5 1338.3v8.5M230.5 1338.3v8.5M233.5 1338.3v8.5M249.5 1338.3v8.5M255.5 1338.3v8.5M256.5 1338.3v8.5M260.5 1338.3v8.5M264.5 1338.3v8.5M265.5 1338.3v8.5M269.5 1338.3v8.5M273.5 1338.3v8.5M274.5 1338.3v8.5M277.5 1338.3v8.5M278.5 1338.3v8.5M280.5 1338.3v8.5M282.5 1338.3v8.5M283.5 1338.3v8.5M284.5 1338.3v8.5M287.5 1338.3v8.5M291.5 1338.3v8.5M299.5 1338.3v8.5M303.5 1338.3v8.5M305.5 1338.3v8.5M322.5 1338.3v8.5M325.5 1338.3v8.5M327.5 1338.3v8.5" stroke="#007a64" stroke-opacity="0.5" stroke-width="1"/>
<path d="M164.5 1338.3v8.5M168.5 1338.3v8.5M193.5 1338.3v8.5M219.5 1338.3v8.5M224.5 1338.3v8.5M229.5 1338.3v8.5M236.5 1338.3v8.5M242.5 1338.3v8.5M246.5 1338.3v8.5M247.5 1338.3v8.5M251.5 1338.3v8.5M252.5 1338.3v8.5M258.5 1338.3v8.5M268.5 1338.3v8.5M270.5 1338.3v8.5M286.5 1338.3v8.5M293.5 1338.3v8.5M297.5 1338.3v8.5" stroke="#007a64" stroke-opacity="0.6" stroke-width="1"/>
<path d="M137.5 1338.3v8.5M142.5 1338.3v8.5M166.5 1338.3v8.5M167.5 1338.3v8.5M169.5 1338.3v8.5M170.5 1338.3v8.5M174.5 1338.3v8.5M177.5 1338.3v8.5M178.5 1338.3v8.5M179.5 1338.3v8.5M186.5 1338.3v8.5M188.5 1338.3v8.5M189.5 1338.3v8.5M192.5 1338.3v8.5M195.5 1338.3v8.5M196.5 1338.3v8.5M199.5 1338.3v8.5M217.5 1338.3v8.5M221.5 1338.3v8.5M222.5 1338.3v8.5M226.5 1338.3v8.5M227.5 1338.3v8.5M228.5 1338.3v8.5M232.5 1338.3v8.5M234.5 1338.3v8.5M235.5 1338.3v8.5M237.5 1338.3v8.5M238.5 1338.3v8.5M240.5 1338.3v8.5M241.5 1338.3v8.5M243.5 1338.3v8.5M244.5 1338.3v8.5M245.5 1338.3v8.5M257.5 1338.3v8.5M259.5 1338.3v8.5M261.5 1338.3v8.5M290.5 1338.3v8.5" stroke="#007a64" stroke-opacity="0.7" stroke-width="1"/>
<path d="M138.5 1338.3v8.5M140.5 1338.3v8.5M145.5 1338.3v8.5M148.5 1338.3v8.5M149.5 1338.3v8.5M160.5 1338.3v8.5M161.5 1338.3v8.5M162.5 1338.3v8.5M163.5 1338.3v8.5M173.5 1338.3v8.5M175.5 1338.3v8.5M176.5 1338.3v8.5M181.5 1338.3v8.5M182.5 1338.3v8.5M185.5 1338.3v8.5M187.5 1338.3v8.5M190.5 1338.3v8.5M191.5 1338.3v8.5M194.5 1338.3v8.5M197.5 1338.3v8.5M201.5 1338.3v8.5M203.5 1338.3v8.5M204.5 1338.3v8.5M205.5 1338.3v8.5M208.5 1338.3v8.5M210.5 1338.3v8.5M215.5 1338.3v8.5M218.5 1338.3v8.5M220.5 1338.3v8.5M223.5 1338.3v8.5M225.5 1338.3v8.5M231.5 1338.3v8.5M239.5 1338.3v8.5M263.5 1338.3v8.5" stroke="#007a64" stroke-opacity="0.8" stroke-width="1"/>
<path d="M92.5 1338.3v8.5M97.5 1338.3v8.5M104.5 1338.3v8.5M106.5 1338.3v8.5M112.5 1338.3v8.5M123.5 1338.3v8.5M139.5 1338.3v8.5M141.5 1338.3v8.5M143.5 1338.3v8.5M144.5 1338.3v8.5M146.5 1338.3v8.5M147.5 1338.3v8.5M150.5 1338.3v8.5M151.5 1338.3v8.5M153.5 1338.3v8.5M154.5 1338.3v8.5M155.5 1338.3v8.5M156.5 1338.3v8.5M157.5 1338.3v8.5M158.5 1338.3v8.5M159.5 1338.3v8.5M165.5 1338.3v8.5M172.5 1338.3v8.5M180.5 1338.3v8.5M184.5 1338.3v8.5M198.5 1338.3v8.5M200.5 1338.3v8.5M202.5 1338.3v8.5M206.5 1338.3v8.5M207.5 1338.3v8.5M209.5 1338.3v8.5M211.5 1338.3v8.5M213.5 1338.3v8.5M214.5 1338.3v8.5" stroke="#007a64" stroke-opacity="0.9" stroke-width="1"/>
<path d="M84.5 1338.3v8.5M85.5 1338.3v8.5M86.5 1338.3v8.5M87.5 1338.3v8.5M88.5 1338.3v8.5M89.5 1338.3v8.5M90.5 1338.3v8.5M91.5 1338.3v8.5M93.5 1338.3v8.5M94.5 1338.3v8.5M95.5 1338.3v8.5M96.5 1338.3v8.5M98.5 1338.3v8.5M99.5 1338.3v8.5M100.5 1338.3v8.5M101.5 1338.3v8.5M102.5 1338.3v8.5M103.5 1338.3v8.5M105.5 1338.3v8.5M107.5 1338.3v8.5M108.5 1338.3v8.5M109.5 1338.3v8.5M110.5 1338.3v8.5M111.5 1338.3v8.5M113.5 1338.3v8.5M114.5 1338.3v8.5M115.5 1338.3v8.5M116.5 1338.3v8.5M117.5 1338.3v8.5M118.5 1338.3v8.5M119.5 1338.3v8.5M120.5 1338.3v8.5M121.5 1338.3v8.5M122.5 1338.3v8.5M124.5 1338.3v8.5M125.5 1338.3v8.5M126.5 1338.3v8.5M127.5 1338.3v8.5M128.5 1338.3v8.5M129.5 1338.3v8.5M130.5 1338.3v8.5M131.5 1338.3v8.5M132.5 1338.3v8.5M133.5 1338.3v8.5M134.5 1338.3v8.5M135.5 1338.3v8.5M136.5 1338.3v8.5M137.5 1338.3v8.5M152.5 1338.3v8.5M212.5 1338.3v8.5" stroke="#007a64" stroke-opacity="1.0" stroke-width="1"/>
<path d="M71.5 1043.3V1347.1H373.7" fill="none" stroke="#000" stroke-width="1.6" stroke-linejoin="round"/>
<path d="M85 1347.1v3.8M143 1347.1v3.8M201.3 1347.1v3.8M259.5 1347.1v3.8M317.9 1347.1v3.8M71.5 1333.5h-3.8M71.5 1273.3h-3.8M71.5 1212.8h-3.8M71.5 1152.8h-3.8M71.5 1092.7h-3.8" stroke="#333" stroke-width="1.1" fill="none"/>
<text class="tl" x="85" y="1364.4" text-anchor="middle">0</text>
<text class="tl" x="143" y="1364.4" text-anchor="middle">25</text>
<text class="tl" x="201.3" y="1364.4" text-anchor="middle">50</text>
<text class="tl" x="259.5" y="1364.4" text-anchor="middle">75</text>
<text class="tl" x="317.9" y="1364.4" text-anchor="middle">100</text>
<text class="tl" x="64.9" y="1338.1" text-anchor="end">0.00</text>
<text class="tl" x="64.9" y="1277.9" text-anchor="end">0.01</text>
<text class="tl" x="64.9" y="1217.4" text-anchor="end">0.02</text>
<text class="tl" x="64.9" y="1157.4" text-anchor="end">0.03</text>
<text class="tl" x="64.9" y="1097.3" text-anchor="end">0.04</text>
<text class="tt" x="222.6" y="1028.3" text-anchor="middle">Distance to closest front (kilometers)</text>
<text class="yl" transform="translate(13.2 1195.2) rotate(-90)" text-anchor="middle">Probability of occurrence</text>
<polygon points="473.8,1280 501.4,1313.3 528.9,1323.3 556.5,1287.2 584,1283.7 611.6,1262.6 639.2,1273.7 666.7,1274.7 694.3,1275.8 721.8,1293.1 749.4,1059.6 749.4,1326.2 721.8,1325.2 694.3,1326.8 666.7,1330.4 639.2,1329.6 611.6,1324.8 584,1329.6 556.5,1332.7 528.9,1333.5 501.4,1333.5 473.8,1333.1" fill="#67c8b8"/>
<polyline points="473.8,1331 501.4,1332.1 528.9,1332.5 556.5,1324.8 584,1315.4 611.6,1305.6 639.2,1315.8 666.7,1311.2 694.3,1311.6 721.8,1312.7 749.4,1274.7" fill="none" stroke="#00765f" stroke-width="2.5" stroke-linejoin="round"/>
<path d="M474.5 1338.3v8.5M477.5 1338.3v8.5M484.5 1338.3v8.5M489.5 1338.3v8.5M490.5 1338.3v8.5M494.5 1338.3v8.5" stroke="#007a64" stroke-opacity="0.12" stroke-width="1"/>
<path d="M475.5 1338.3v8.5M483.5 1338.3v8.5M485.5 1338.3v8.5M486.5 1338.3v8.5M492.5 1338.3v8.5M493.5 1338.3v8.5M498.5 1338.3v8.5M503.5 1338.3v8.5M505.5 1338.3v8.5M509.5 1338.3v8.5" stroke="#007a64" stroke-opacity="0.2" stroke-width="1"/>
<path d="M476.5 1338.3v8.5M480.5 1338.3v8.5M482.5 1338.3v8.5M483.5 1338.3v8.5M487.5 1338.3v8.5M497.5 1338.3v8.5M499.5 1338.3v8.5M501.5 1338.3v8.5M504.5 1338.3v8.5M506.5 1338.3v8.5M507.5 1338.3v8.5M508.5 1338.3v8.5M524.5 1338.3v8.5M530.5 1338.3v8.5M532.5 1338.3v8.5M534.5 1338.3v8.5M538.5 1338.3v8.5M544.5 1338.3v8.5M559.5 1338.3v8.5M746.5 1338.3v8.5M749.5 1338.3v8.5" stroke="#007a64" stroke-opacity="0.3" stroke-width="1"/>
<path d="M500.5 1338.3v8.5M502.5 1338.3v8.5M529.5 1338.3v8.5M533.5 1338.3v8.5M537.5 1338.3v8.5M539.5 1338.3v8.5M550.5 1338.3v8.5M557.5 1338.3v8.5M562.5 1338.3v8.5M573.5 1338.3v8.5" stroke="#007a64" stroke-opacity="0.4" stroke-width="1"/>
<path d="M473.5 1338.3v8.5M478.5 1338.3v8.5M479.5 1338.3v8.5M481.5 1338.3v8.5M518.5 1338.3v8.5M521.5 1338.3v8.5M522.5 1338.3v8.5M523.5 1338.3v8.5M526.5 1338.3v8.5M540.5 1338.3v8.5M542.5 1338.3v8.5M547.5 1338.3v8.5M552.5 1338.3v8.5M553.5 1338.3v8.5M554.5 1338.3v8.5M555.5 1338.3v8.5M556.5 1338.3v8.5M560.5 1338.3v8.5M561.5 1338.3v8.5M563.5 1338.3v8.5M564.5 1338.3v8.5M569.5 1338.3v8.5M580.5 1338.3v8.5M591.5 1338.3v8.5M601.5 1338.3v8.5" stroke="#007a64" stroke-opacity="0.5" stroke-width="1"/>
<path d="M515.5 1338.3v8.5M517.5 1338.3v8.5M519.5 1338.3v8.5M525.5 1338.3v8.5M527.5 1338.3v8.5M528.5 1338.3v8.5M535.5 1338.3v8.5M541.5 1338.3v8.5M549.5 1338.3v8.5M551.5 1338.3v8.5M558.5 1338.3v8.5M566.5 1338.3v8.5M568.5 1338.3v8.5M572.5 1338.3v8.5M573.5 1338.3v8.5M577.5 1338.3v8.5M578.5 1338.3v8.5M579.5 1338.3v8.5M590.5 1338.3v8.5M606.5 1338.3v8.5M608.5 1338.3v8.5M610.5 1338.3v8.5M613.5 1338.3v8.5M614.5 1338.3v8.5M615.5 1338.3v8.5M681.5 1338.3v8.5M745.5 1338.3v8.5M747.5 1338.3v8.5" stroke="#007a64" stroke-opacity="0.6" stroke-width="1"/>
<path d="M516.5 1338.3v8.5M520.5 1338.3v8.5M531.5 1338.3v8.5M536.5 1338.3v8.5M543.5 1338.3v8.5M545.5 1338.3v8.5M546.5 1338.3v8.5M548.5 1338.3v8.5M559.5 1338.3v8.5M565.5 1338.3v8.5M567.5 1338.3v8.5M570.5 1338.3v8.5M571.5 1338.3v8.5M583.5 1338.3v8.5M585.5 1338.3v8.5M587.5 1338.3v8.5M588.5 1338.3v8.5M592.5 1338.3v8.5M593.5 1338.3v8.5M594.5 1338.3v8.5M595.5 1338.3v8.5M597.5 1338.3v8.5M600.5 1338.3v8.5M603.5 1338.3v8.5M611.5 1338.3v8.5M616.5 1338.3v8.5M616.5 1338.3v8.5M618.5 1338.3v8.5M625.5 1338.3v8.5M628.5 1338.3v8.5M629.5 1338.3v8.5M641.5 1338.3v8.5M643.5 1338.3v8.5M645.5 1338.3v8.5M651.5 1338.3v8.5M657.5 1338.3v8.5M674.5 1338.3v8.5M675.5 1338.3v8.5M682.5 1338.3v8.5M684.5 1338.3v8.5M685.5 1338.3v8.5M688.5 1338.3v8.5M692.5 1338.3v8.5M704.5 1338.3v8.5M748.5 1338.3v8.5" stroke="#007a64" stroke-opacity="0.7" stroke-width="1"/>
<path d="M574.5 1338.3v8.5M575.5 1338.3v8.5M576.5 1338.3v8.5M582.5 1338.3v8.5M584.5 1338.3v8.5M586.5 1338.3v8.5M589.5 1338.3v8.5M596.5 1338.3v8.5M598.5 1338.3v8.5M599.5 1338.3v8.5M602.5 1338.3v8.5M604.5 1338.3v8.5M605.5 1338.3v8.5M607.5 1338.3v8.5M609.5 1338.3v8.5M612.5 1338.3v8.5M617.5 1338.3v8.5M619.5 1338.3v8.5M620.5 1338.3v8.5M621.5 1338.3v8.5M622.5 1338.3v8.5M623.5 1338.3v8.5M626.5 1338.3v8.5M627.5 1338.3v8.5M631.5 1338.3v8.5M632.5 1338.3v8.5M633.5 1338.3v8.5M635.5 1338.3v8.5M639.5 1338.3v8.5M640.5 1338.3v8.5M642.5 1338.3v8.5M647.5 1338.3v8.5M658.5 1338.3v8.5M663.5 1338.3v8.5M666.5 1338.3v8.5M667.5 1338.3v8.5M668.5 1338.3v8.5M669.5 1338.3v8.5M670.5 1338.3v8.5M672.5 1338.3v8.5M673.5 1338.3v8.5M677.5 1338.3v8.5M678.5 1338.3v8.5M679.5 1338.3v8.5M680.5 1338.3v8.5M683.5 1338.3v8.5M689.5 1338.3v8.5M690.5 1338.3v8.5M691.5 1338.3v8.5M693.5 1338.3v8.5M694.5 1338.3v8.5M695.5 1338.3v8.5M697.5 1338.3v8.5M698.5 1338.3v8.5M699.5 1338.3v8.5M700.5 1338.3v8.5M701.5 1338.3v8.5M702.5 1338.3v8.5M703.5 1338.3v8.5" stroke="#007a64" stroke-opacity="0.8" stroke-width="1"/>
<path d="M581.5 1338.3v8.5M624.5 1338.3v8.5M630.5 1338.3v8.5M634.5 1338.3v8.5M636.5 1338.3v8.5M637.5 1338.3v8.5M638.5 1338.3v8.5M644.5 1338.3v8.5M645.5 1338.3v8.5M646.5 1338.3v8.5M648.5 1338.3v8.5M649.5 1338.3v8.5M650.5 1338.3v8.5M652.5 1338.3v8.5M654.5 1338.3v8.5M655.5 1338.3v8.5M656.5 1338.3v8.5M659.5 1338.3v8.5M660.5 1338.3v8.5M661.5 1338.3v8.5M664.5 1338.3v8.5M665.5 1338.3v8.5M671.5 1338.3v8.5M676.5 1338.3v8.5M686.5 1338.3v8.5M687.5 1338.3v8.5M696.5 1338.3v8.5M705.5 1338.3v8.5M706.5 1338.3v8.5M707.5 1338.3v8.5M708.5 1338.3v8.5M709.5 1338.3v8.5M718.5 1338.3v8.5M722.5 1338.3v8.5M723.5 1338.3v8.5M728.5 1338.3v8.5M730.5 1338.3v8.5M736.5 1338.3v8.5M738.5 1338.3v8.5M740.5 1338.3v8.5M741.5 1338.3v8.5M743.5 1338.3v8.5" stroke="#007a64" stroke-opacity="0.9" stroke-width="1"/>
<path d="M653.5 1338.3v8.5M662.5 1338.3v8.5M667.5 1338.3v8.5M708.5 1338.3v8.5M710.5 1338.3v8.5M711.5 1338.3v8.5M712.5 1338.3v8.5M713.5 1338.3v8.5M714.5 1338.3v8.5M715.5 1338.3v8.5M716.5 1338.3v8.5M717.5 1338.3v8.5M719.5 1338.3v8.5M720.5 1338.3v8.5M721.5 1338.3v8.5M724.5 1338.3v8.5M725.5 1338.3v8.5M726.5 1338.3v8.5M727.5 1338.3v8.5M729.5 1338.3v8.5M731.5 1338.3v8.5M732.5 1338.3v8.5M733.5 1338.3v8.5M734.5 1338.3v8.5M735.5 1338.3v8.5M737.5 1338.3v8.5M739.5 1338.3v8.5M742.5 1338.3v8.5M744.5 1338.3v8.5" stroke="#007a64" stroke-opacity="1.0" stroke-width="1"/>
<path d="M459.6 1043.3V1347.1H762.3" fill="none" stroke="#000" stroke-width="1.6" stroke-linejoin="round"/>
<path d="M524.2 1347.1v3.8M602 1347.1v3.8M679.9 1347.1v3.8M757.7 1347.1v3.8M459.6 1333.5h-3.8M459.6 1262.2h-3.8M459.6 1191.3h-3.8M459.6 1120.5h-3.8M459.6 1049.6h-3.8" stroke="#333" stroke-width="1.1" fill="none"/>
<text class="tl" x="524.2" y="1364.4" text-anchor="middle">34.4</text>
<text class="tl" x="602" y="1364.4" text-anchor="middle">34.8</text>
<text class="tl" x="679.9" y="1364.4" text-anchor="middle">35.2</text>
<text class="tl" x="757.7" y="1364.4" text-anchor="middle">35.6</text>
<text class="tl" x="453" y="1338.1" text-anchor="end">0.00</text>
<text class="tl" x="453" y="1266.8" text-anchor="end">0.02</text>
<text class="tl" x="453" y="1195.9" text-anchor="end">0.04</text>
<text class="tl" x="453" y="1125.1" text-anchor="end">0.06</text>
<text class="tl" x="453" y="1054.2" text-anchor="end">0.08</text>
<text class="tt" x="611" y="1028.3" text-anchor="middle">Sea Surface Salinity (g.kg<tspan class="sup" dy="-6">-1</tspan><tspan dy="6">)</tspan></text>
<polygon points="862.3,1056.9 889.9,1183 917.5,1161.1 945,1165.7 972.6,1231 1000.2,1235.5 1027.8,1248.1 1055.4,1278.5 1082.9,1178.4 1110.5,1150.3 1138.1,1173 1138.1,1333.5 1110.5,1332.7 1082.9,1330 1055.4,1331.6 1027.8,1327.9 1000.2,1324.4 972.6,1316.8 945,1308.1 917.5,1321.6 889.9,1330 862.3,1333.1" fill="#86dc96"/>
<polyline points="862.3,1302.9 889.9,1301.4 917.5,1259.7 945,1258.5 972.6,1289.7 1000.2,1296.2 1027.8,1308.5 1055.4,1316 1082.9,1301.2 1110.5,1312.3 1138.1,1319.6" fill="none" stroke="#1d8c2f" stroke-width="2.5" stroke-linejoin="round"/>
<path d="M875.5 1338.3v8.5M888.5 1338.3v8.5M890.5 1338.3v8.5M899.5 1338.3v8.5M907.5 1338.3v8.5M909.5 1338.3v8.5M930.5 1338.3v8.5M934.5 1338.3v8.5M936.5 1338.3v8.5M971.5 1338.3v8.5M980.5 1338.3v8.5M989.5 1338.3v8.5M990.5 1338.3v8.5M998.5 1338.3v8.5M1003.5 1338.3v8.5M1006.5 1338.3v8.5M1007.5 1338.3v8.5M1036.5 1338.3v8.5M1046.5 1338.3v8.5M1052.5 1338.3v8.5M1053.5 1338.3v8.5M1054.5 1338.3v8.5M1056.5 1338.3v8.5M1063.5 1338.3v8.5M1069.5 1338.3v8.5M1072.5 1338.3v8.5M1078.5 1338.3v8.5M1086.5 1338.3v8.5M1087.5 1338.3v8.5M1089.5 1338.3v8.5M1090.5 1338.3v8.5M1092.5 1338.3v8.5M1095.5 1338.3v8.5M1096.5 1338.3v8.5M1105.5 1338.3v8.5M1109.5 1338.3v8.5M1113.5 1338.3v8.5M1120.5 1338.3v8.5M1126.5 1338.3v8.5M1129.5 1338.3v8.5M1130.5 1338.3v8.5M1134.5 1338.3v8.5M1135.5 1338.3v8.5M1136.5 1338.3v8.5M1138.5 1338.3v8.5" stroke="#1f8f2f" stroke-opacity="0.4" stroke-width="1"/>
<path d="M877.5 1338.3v8.5M886.5 1338.3v8.5M896.5 1338.3v8.5M901.5 1338.3v8.5M906.5 1338.3v8.5M910.5 1338.3v8.5M912.5 1338.3v8.5M933.5 1338.3v8.5M942.5 1338.3v8.5M956.5 1338.3v8.5M968.5 1338.3v8.5M979.5 1338.3v8.5M986.5 1338.3v8.5M991.5 1338.3v8.5M996.5 1338.3v8.5M999.5 1338.3v8.5M1005.5 1338.3v8.5M1010.5 1338.3v8.5M1015.5 1338.3v8.5M1022.5 1338.3v8.5M1026.5 1338.3v8.5M1028.5 1338.3v8.5M1029.5 1338.3v8.5M1033.5 1338.3v8.5M1037.5 1338.3v8.5M1037.5 1338.3v8.5M1038.5 1338.3v8.5M1040.5 1338.3v8.5M1042.5 1338.3v8.5M1043.5 1338.3v8.5M1044.5 1338.3v8.5M1045.5 1338.3v8.5M1048.5 1338.3v8.5M1070.5 1338.3v8.5M1074.5 1338.3v8.5M1088.5 1338.3v8.5M1094.5 1338.3v8.5M1119.5 1338.3v8.5M1122.5 1338.3v8.5M1124.5 1338.3v8.5M1125.5 1338.3v8.5M1133.5 1338.3v8.5" stroke="#1f8f2f" stroke-opacity="0.6" stroke-width="1"/>
<path d="M862.5 1338.3v8.5M874.5 1338.3v8.5M876.5 1338.3v8.5M889.5 1338.3v8.5M891.5 1338.3v8.5M892.5 1338.3v8.5M925.5 1338.3v8.5M927.5 1338.3v8.5M928.5 1338.3v8.5M929.5 1338.3v8.5M941.5 1338.3v8.5M943.5 1338.3v8.5M950.5 1338.3v8.5M955.5 1338.3v8.5M958.5 1338.3v8.5M959.5 1338.3v8.5M961.5 1338.3v8.5M993.5 1338.3v8.5M997.5 1338.3v8.5M1001.5 1338.3v8.5M1004.5 1338.3v8.5M1008.5 1338.3v8.5M1009.5 1338.3v8.5M1014.5 1338.3v8.5M1019.5 1338.3v8.5M1020.5 1338.3v8.5M1025.5 1338.3v8.5M1027.5 1338.3v8.5M1050.5 1338.3v8.5M1058.5 1338.3v8.5M1077.5 1338.3v8.5M1123.5 1338.3v8.5M1131.5 1338.3v8.5" stroke="#1f8f2f" stroke-opacity="0.8" stroke-width="1"/>
<path d="M869.5 1338.3v8.5M880.5 1338.3v8.5M882.5 1338.3v8.5M894.5 1338.3v8.5M898.5 1338.3v8.5M900.5 1338.3v8.5M902.5 1338.3v8.5M903.5 1338.3v8.5M908.5 1338.3v8.5M911.5 1338.3v8.5M916.5 1338.3v8.5M917.5 1338.3v8.5M918.5 1338.3v8.5M919.5 1338.3v8.5M920.5 1338.3v8.5M921.5 1338.3v8.5M922.5 1338.3v8.5M923.5 1338.3v8.5M924.5 1338.3v8.5M931.5 1338.3v8.5M937.5 1338.3v8.5M938.5 1338.3v8.5M940.5 1338.3v8.5M944.5 1338.3v8.5M945.5 1338.3v8.5M948.5 1338.3v8.5M952.5 1338.3v8.5M954.5 1338.3v8.5M957.5 1338.3v8.5M962.5 1338.3v8.5M963.5 1338.3v8.5M964.5 1338.3v8.5M965.5 1338.3v8.5M966.5 1338.3v8.5M970.5 1338.3v8.5M974.5 1338.3v8.5M981.5 1338.3v8.5M983.5 1338.3v8.5M984.5 1338.3v8.5M985.5 1338.3v8.5M987.5 1338.3v8.5M988.5 1338.3v8.5M1002.5 1338.3v8.5M1016.5 1338.3v8.5M1017.5 1338.3v8.5M1018.5 1338.3v8.5M1023.5 1338.3v8.5M1030.5 1338.3v8.5M1031.5 1338.3v8.5M1032.5 1338.3v8.5M1034.5 1338.3v8.5M1035.5 1338.3v8.5M1039.5 1338.3v8.5M1055.5 1338.3v8.5M1073.5 1338.3v8.5M1121.5 1338.3v8.5" stroke="#1f8f2f" stroke-opacity="0.9" stroke-width="1"/>
<path d="M893.5 1338.3v8.5M895.5 1338.3v8.5M897.5 1338.3v8.5M926.5 1338.3v8.5M935.5 1338.3v8.5M939.5 1338.3v8.5M943.5 1338.3v8.5M946.5 1338.3v8.5M947.5 1338.3v8.5M949.5 1338.3v8.5M951.5 1338.3v8.5M953.5 1338.3v8.5M960.5 1338.3v8.5M967.5 1338.3v8.5M969.5 1338.3v8.5M972.5 1338.3v8.5M973.5 1338.3v8.5M975.5 1338.3v8.5M976.5 1338.3v8.5M977.5 1338.3v8.5M978.5 1338.3v8.5M982.5 1338.3v8.5M990.5 1338.3v8.5M1024.5 1338.3v8.5M1062.5 1338.3v8.5" stroke="#1f8f2f" stroke-opacity="1.0" stroke-width="1"/>
<path d="M848.8 1043.3V1347.1H1152" fill="none" stroke="#000" stroke-width="1.6" stroke-linejoin="round"/>
<path d="M907.8 1347.1v3.8M975.3 1347.1v3.8M1042.6 1347.1v3.8M1110.4 1347.1v3.8M848.8 1334.1h-3.8M848.8 1248.3h-3.8M848.8 1162.2h-3.8M848.8 1076.1h-3.8" stroke="#333" stroke-width="1.1" fill="none"/>
<text class="tl" x="907.8" y="1364.4" text-anchor="middle">20</text>
<text class="tl" x="975.3" y="1364.4" text-anchor="middle">30</text>
<text class="tl" x="1042.6" y="1364.4" text-anchor="middle">40</text>
<text class="tl" x="1110.4" y="1364.4" text-anchor="middle">50</text>
<text class="tl" x="842.2" y="1338.7" text-anchor="end">0.00</text>
<text class="tl" x="842.2" y="1252.9" text-anchor="end">0.01</text>
<text class="tl" x="842.2" y="1166.8" text-anchor="end">0.02</text>
<text class="tl" x="842.2" y="1080.7" text-anchor="end">0.03</text>
<text class="tt" x="1000.4" y="1028.3" text-anchor="middle">Phytoplankton concentration (mmol.m<tspan class="sup" dy="-6">-3</tspan><tspan dy="6">)</tspan></text>
<polygon points="1244.2,1309.1 1271.8,1325.8 1299.3,1327.9 1326.9,1326.2 1354.4,1318.5 1382,1294.5 1409.6,1276.8 1437.1,1240.3 1464.7,1178.8 1492.2,1157.6 1519.8,1058.3 1519.8,1326.4 1492.2,1329.4 1464.7,1327.9 1437.1,1329.6 1409.6,1331 1382,1330.6 1354.4,1332.7 1326.9,1332.1 1299.3,1332.1 1271.8,1333.1 1244.2,1333.1" fill="#a9a8a9"/>
<polyline points="1244.2,1331 1271.8,1331 1299.3,1330 1326.9,1330.6 1354.4,1329.4 1382,1321.6 1409.6,1317.5 1437.1,1307 1464.7,1298.1 1492.2,1287.2 1519.8,1273.7" fill="none" stroke="#404040" stroke-width="2.5" stroke-linejoin="round"/>
<path d="M1246.5 1338.3v8.5M1247.5 1338.3v8.5M1248.5 1338.3v8.5M1250.5 1338.3v8.5M1253.5 1338.3v8.5M1256.5 1338.3v8.5M1429.5 1338.3v8.5M1448.5 1338.3v8.5M1466.5 1338.3v8.5M1467.5 1338.3v8.5M1468.5 1338.3v8.5M1469.5 1338.3v8.5M1476.5 1338.3v8.5M1480.5 1338.3v8.5M1488.5 1338.3v8.5M1492.5 1338.3v8.5M1494.5 1338.3v8.5M1500.5 1338.3v8.5M1501.5 1338.3v8.5M1503.5 1338.3v8.5M1505.5 1338.3v8.5M1506.5 1338.3v8.5M1509.5 1338.3v8.5M1510.5 1338.3v8.5M1511.5 1338.3v8.5M1512.5 1338.3v8.5M1513.5 1338.3v8.5M1519.5 1338.3v8.5" stroke="#000000" stroke-opacity="0.06" stroke-width="1"/>
<path d="M1243.5 1338.3v8.5M1244.5 1338.3v8.5M1254.5 1338.3v8.5M1255.5 1338.3v8.5M1372.5 1338.3v8.5M1373.5 1338.3v8.5M1379.5 1338.3v8.5M1391.5 1338.3v8.5M1398.5 1338.3v8.5M1418.5 1338.3v8.5M1421.5 1338.3v8.5M1422.5 1338.3v8.5M1447.5 1338.3v8.5M1453.5 1338.3v8.5M1455.5 1338.3v8.5M1462.5 1338.3v8.5M1464.5 1338.3v8.5M1473.5 1338.3v8.5M1474.5 1338.3v8.5M1478.5 1338.3v8.5M1479.5 1338.3v8.5M1482.5 1338.3v8.5M1483.5 1338.3v8.5M1485.5 1338.3v8.5M1490.5 1338.3v8.5M1493.5 1338.3v8.5M1498.5 1338.3v8.5M1499.5 1338.3v8.5M1517.5 1338.3v8.5M1521.5 1338.3v8.5" stroke="#000000" stroke-opacity="0.12" stroke-width="1"/>
<path d="M1245.5 1338.3v8.5M1249.5 1338.3v8.5M1340.5 1338.3v8.5M1345.5 1338.3v8.5M1356.5 1338.3v8.5M1367.5 1338.3v8.5M1370.5 1338.3v8.5M1374.5 1338.3v8.5M1376.5 1338.3v8.5M1380.5 1338.3v8.5M1384.5 1338.3v8.5M1388.5 1338.3v8.5M1390.5 1338.3v8.5M1392.5 1338.3v8.5M1407.5 1338.3v8.5M1423.5 1338.3v8.5M1431.5 1338.3v8.5M1432.5 1338.3v8.5M1433.5 1338.3v8.5M1435.5 1338.3v8.5M1438.5 1338.3v8.5M1442.5 1338.3v8.5M1444.5 1338.3v8.5M1445.5 1338.3v8.5M1449.5 1338.3v8.5M1450.5 1338.3v8.5M1452.5 1338.3v8.5M1472.5 1338.3v8.5M1477.5 1338.3v8.5M1481.5 1338.3v8.5M1484.5 1338.3v8.5M1486.5 1338.3v8.5M1491.5 1338.3v8.5M1495.5 1338.3v8.5M1504.5 1338.3v8.5M1507.5 1338.3v8.5M1508.5 1338.3v8.5M1514.5 1338.3v8.5M1515.5 1338.3v8.5M1516.5 1338.3v8.5M1518.5 1338.3v8.5" stroke="#000000" stroke-opacity="0.2" stroke-width="1"/>
<path d="M1251.5 1338.3v8.5M1343.5 1338.3v8.5M1347.5 1338.3v8.5M1353.5 1338.3v8.5M1358.5 1338.3v8.5M1360.5 1338.3v8.5M1368.5 1338.3v8.5M1369.5 1338.3v8.5M1375.5 1338.3v8.5M1378.5 1338.3v8.5M1382.5 1338.3v8.5M1386.5 1338.3v8.5M1393.5 1338.3v8.5M1395.5 1338.3v8.5M1397.5 1338.3v8.5M1400.5 1338.3v8.5M1402.5 1338.3v8.5M1403.5 1338.3v8.5M1411.5 1338.3v8.5M1417.5 1338.3v8.5M1419.5 1338.3v8.5M1420.5 1338.3v8.5M1425.5 1338.3v8.5M1426.5 1338.3v8.5M1427.5 1338.3v8.5M1428.5 1338.3v8.5M1430.5 1338.3v8.5M1434.5 1338.3v8.5" stroke="#000000" stroke-opacity="0.3" stroke-width="1"/>
<path d="M1257.5 1338.3v8.5M1261.5 1338.3v8.5M1268.5 1338.3v8.5M1282.5 1338.3v8.5M1292.5 1338.3v8.5M1302.5 1338.3v8.5M1328.5 1338.3v8.5M1331.5 1338.3v8.5M1338.5 1338.3v8.5M1342.5 1338.3v8.5M1344.5 1338.3v8.5M1348.5 1338.3v8.5M1350.5 1338.3v8.5M1354.5 1338.3v8.5M1361.5 1338.3v8.5M1362.5 1338.3v8.5M1363.5 1338.3v8.5M1364.5 1338.3v8.5M1366.5 1338.3v8.5M1367.5 1338.3v8.5M1381.5 1338.3v8.5M1383.5 1338.3v8.5M1385.5 1338.3v8.5M1387.5 1338.3v8.5M1389.5 1338.3v8.5M1396.5 1338.3v8.5M1399.5 1338.3v8.5M1399.5 1338.3v8.5M1404.5 1338.3v8.5M1406.5 1338.3v8.5M1410.5 1338.3v8.5M1412.5 1338.3v8.5M1424.5 1338.3v8.5M1436.5 1338.3v8.5M1437.5 1338.3v8.5" stroke="#000000" stroke-opacity="0.4" stroke-width="1"/>
<path d="M1259.5 1338.3v8.5M1264.5 1338.3v8.5M1266.5 1338.3v8.5M1278.5 1338.3v8.5M1283.5 1338.3v8.5M1285.5 1338.3v8.5M1287.5 1338.3v8.5M1291.5 1338.3v8.5M1297.5 1338.3v8.5M1298.5 1338.3v8.5M1301.5 1338.3v8.5M1303.5 1338.3v8.5M1309.5 1338.3v8.5M1326.5 1338.3v8.5M1327.5 1338.3v8.5M1332.5 1338.3v8.5M1339.5 1338.3v8.5M1341.5 1338.3v8.5M1349.5 1338.3v8.5M1351.5 1338.3v8.5M1352.5 1338.3v8.5M1355.5 1338.3v8.5M1357.5 1338.3v8.5M1365.5 1338.3v8.5M1377.5 1338.3v8.5M1394.5 1338.3v8.5M1401.5 1338.3v8.5M1405.5 1338.3v8.5M1408.5 1338.3v8.5M1409.5 1338.3v8.5" stroke="#000000" stroke-opacity="0.5" stroke-width="1"/>
<path d="M1258.5 1338.3v8.5M1260.5 1338.3v8.5M1262.5 1338.3v8.5M1263.5 1338.3v8.5M1267.5 1338.3v8.5M1270.5 1338.3v8.5M1271.5 1338.3v8.5M1275.5 1338.3v8.5M1277.5 1338.3v8.5M1281.5 1338.3v8.5M1284.5 1338.3v8.5M1286.5 1338.3v8.5M1289.5 1338.3v8.5M1293.5 1338.3v8.5M1295.5 1338.3v8.5M1304.5 1338.3v8.5M1310.5 1338.3v8.5M1316.5 1338.3v8.5M1323.5 1338.3v8.5M1333.5 1338.3v8.5M1334.5 1338.3v8.5M1336.5 1338.3v8.5M1337.5 1338.3v8.5M1346.5 1338.3v8.5M1359.5 1338.3v8.5" stroke="#000000" stroke-opacity="0.6" stroke-width="1"/>
<path d="M1265.5 1338.3v8.5M1269.5 1338.3v8.5M1272.5 1338.3v8.5M1273.5 1338.3v8.5M1274.5 1338.3v8.5M1276.5 1338.3v8.5M1279.5 1338.3v8.5M1280.5 1338.3v8.5M1288.5 1338.3v8.5M1290.5 1338.3v8.5M1294.5 1338.3v8.5M1296.5 1338.3v8.5M1299.5 1338.3v8.5M1300.5 1338.3v8.5M1305.5 1338.3v8.5M1306.5 1338.3v8.5M1307.5 1338.3v8.5M1308.5 1338.3v8.5M1311.5 1338.3v8.5M1313.5 1338.3v8.5M1314.5 1338.3v8.5M1315.5 1338.3v8.5M1318.5 1338.3v8.5M1319.5 1338.3v8.5M1321.5 1338.3v8.5M1329.5 1338.3v8.5M1330.5 1338.3v8.5M1335.5 1338.3v8.5M1338.5 1338.3v8.5" stroke="#000000" stroke-opacity="0.7" stroke-width="1"/>
<path d="M1309.5 1338.3v8.5M1312.5 1338.3v8.5M1317.5 1338.3v8.5M1320.5 1338.3v8.5M1322.5 1338.3v8.5M1325.5 1338.3v8.5M1326.5 1338.3v8.5" stroke="#000000" stroke-opacity="0.8" stroke-width="1"/>
<path d="M1324.5 1338.3v8.5" stroke="#000000" stroke-opacity="0.9" stroke-width="1"/>
<path d="M1230.2 1043.3V1347.1H1533.3" fill="none" stroke="#000" stroke-width="1.6" stroke-linejoin="round"/>
<path d="M1239.4 1347.1v3.8M1334.5 1347.1v3.8M1429.7 1347.1v3.8M1525 1347.1v3.8M1230.2 1333.7h-3.8M1230.2 1267.9h-3.8M1230.2 1201.8h-3.8M1230.2 1136.5h-3.8M1230.2 1070.9h-3.8" stroke="#333" stroke-width="1.1" fill="none"/>
<text class="tl" x="1239.4" y="1364.4" text-anchor="middle">0</text>
<text class="tl" x="1334.5" y="1364.4" text-anchor="middle">10</text>
<text class="tl" x="1429.7" y="1364.4" text-anchor="middle">20</text>
<text class="tl" x="1525" y="1364.4" text-anchor="middle">30</text>
<text class="tl" x="1223.6" y="1338.3" text-anchor="end">0.0</text>
<text class="tl" x="1223.6" y="1272.5" text-anchor="end">0.1</text>
<text class="tl" x="1223.6" y="1206.4" text-anchor="end">0.2</text>
<text class="tl" x="1223.6" y="1141.1" text-anchor="end">0.3</text>
<text class="tl" x="1223.6" y="1075.5" text-anchor="end">0.4</text>
<text class="tt" x="1381.8" y="1028.3" text-anchor="middle">Effort duration (min.2km<tspan class="sup" dy="-6">-1</tspan><tspan dy="6">)</tspan></text>
<line x1="153.7" y1="1684.8" x2="153.7" y2="1697.5" stroke="#645432" stroke-width="2.6"/>
<line x1="153.7" y1="1706.8" x2="153.7" y2="1713.7" stroke="#645432" stroke-width="2.6"/>
<circle cx="153.7" cy="1673.6" r="2.4" fill="#826932" fill-opacity="0.6"/>
<circle cx="153.7" cy="1675.4" r="2.4" fill="#826932" fill-opacity="0.6"/>
<circle cx="153.7" cy="1681" r="2.4" fill="#826932" fill-opacity="0.6"/>
<circle cx="153.7" cy="1682.8" r="2.4" fill="#826932" fill-opacity="0.6"/>
<rect x="126.1" y="1697.5" width="56" height="9.3" fill="#967f4a" stroke="#5e4d28" stroke-width="2"/>
<line x1="127" y1="1703.1" x2="181.2" y2="1703.1" stroke="#645432" stroke-width="5.8"/>
<circle cx="153.7" cy="1702.1" r="4.9" fill="#ffffff" stroke="#5a4a28" stroke-width="1.9"/>
<line x1="291.9" y1="1521.6" x2="291.9" y2="1590.4" stroke="#645432" stroke-width="2.6"/>
<line x1="291.9" y1="1636.6" x2="291.9" y2="1682.4" stroke="#645432" stroke-width="2.6"/>
<circle cx="291.9" cy="1437.7" r="2.4" fill="#826932" fill-opacity="0.6"/>
<circle cx="291.9" cy="1438.9" r="2.4" fill="#826932" fill-opacity="0.6"/>
<circle cx="291.9" cy="1451.2" r="2.4" fill="#826932" fill-opacity="0.6"/>
<circle cx="291.9" cy="1465" r="2.4" fill="#826932" fill-opacity="0.6"/>
<circle cx="291.9" cy="1467.3" r="2.4" fill="#826932" fill-opacity="0.6"/>
<circle cx="291.9" cy="1469.6" r="2.4" fill="#826932" fill-opacity="0.6"/>
<circle cx="291.9" cy="1474.4" r="2.4" fill="#826932" fill-opacity="0.6"/>
<circle cx="291.9" cy="1478.6" r="2.4" fill="#826932" fill-opacity="0.6"/>
<circle cx="291.9" cy="1479.4" r="2.4" fill="#826932" fill-opacity="0.6"/>
<circle cx="291.9" cy="1483.3" r="2.4" fill="#826932" fill-opacity="0.6"/>
<circle cx="291.9" cy="1489.6" r="2.4" fill="#826932" fill-opacity="0.6"/>
<circle cx="291.9" cy="1490.2" r="2.4" fill="#826932" fill-opacity="0.6"/>
<circle cx="291.9" cy="1494.8" r="2.4" fill="#826932" fill-opacity="0.6"/>
<circle cx="291.9" cy="1499.7" r="2.4" fill="#826932" fill-opacity="0.6"/>
<circle cx="291.9" cy="1504" r="2.4" fill="#826932" fill-opacity="0.6"/>
<circle cx="291.9" cy="1506" r="2.4" fill="#826932" fill-opacity="0.6"/>
<circle cx="291.9" cy="1508" r="2.4" fill="#826932" fill-opacity="0.6"/>
<circle cx="291.9" cy="1510" r="2.4" fill="#826932" fill-opacity="0.6"/>
<circle cx="291.9" cy="1512" r="2.4" fill="#826932" fill-opacity="0.6"/>
<circle cx="291.9" cy="1514" r="2.4" fill="#826932" fill-opacity="0.6"/>
<circle cx="291.9" cy="1516" r="2.4" fill="#826932" fill-opacity="0.6"/>
<circle cx="291.9" cy="1518" r="2.4" fill="#826932" fill-opacity="0.6"/>
<circle cx="291.9" cy="1520" r="2.4" fill="#826932" fill-opacity="0.6"/>
<rect x="264.3" y="1590.4" width="55.1" height="46.2" fill="#967f4a" stroke="#5e4d28" stroke-width="2"/>
<line x1="265.2" y1="1614.1" x2="318.5" y2="1614.1" stroke="#645432" stroke-width="4.3"/>
<circle cx="291.9" cy="1610.2" r="4.9" fill="#ffffff" stroke="#5a4a28" stroke-width="1.9"/>
<path d="M71.1 1423.9V1727.5H374.5" fill="none" stroke="#000" stroke-width="1.6" stroke-linejoin="round"/>
<path d="M153.7 1727.5v3.8M291.9 1727.5v3.8M71.1 1721.5h-3.8M71.1 1634.2h-3.8M71.1 1546.4h-3.8M71.1 1458.3h-3.8" stroke="#333" stroke-width="1.1" fill="none"/>
<text class="tl" x="153.7" y="1744.8" text-anchor="middle">0</text>
<text class="tl" x="291.9" y="1744.8" text-anchor="middle">1</text>
<text class="tl" x="64.5" y="1726.1" text-anchor="end">0.00</text>
<text class="tl" x="64.5" y="1638.8" text-anchor="end">0.02</text>
<text class="tl" x="64.5" y="1551" text-anchor="end">0.04</text>
<text class="tl" x="64.5" y="1462.9" text-anchor="end">0.06</text>
<text class="tt" x="222.8" y="1412.8" text-anchor="middle">Substrate - Muddy Sand</text>
<polygon points="473.3,1564.6 500.9,1487.7 528.5,1575 556.2,1438.2 583.8,1616.2 611.4,1595.1 639,1669.6 666.6,1665.7 694.3,1685.8 721.9,1661.5 749.5,1697.5 749.5,1713.1 721.9,1713.6 694.3,1710.5 666.6,1712.3 639,1702.7 611.4,1707.9 583.8,1689.2 556.2,1699.6 528.5,1691.5 500.9,1709.2 473.3,1712.3" fill="#a9a8a9"/>
<polyline points="473.3,1680.6 500.9,1663.6 528.5,1649.8 556.2,1648 583.8,1657.1 611.4,1683.2 639,1692.3 666.6,1696.7 694.3,1701.4 721.9,1704.5 749.5,1708.4" fill="none" stroke="#404040" stroke-width="2.5" stroke-linejoin="round"/>
<line x1="473.3" y1="1718.7" x2="473.3" y2="1727.2" stroke="#3a3a3a" stroke-width="1.4"/>
<line x1="528.5" y1="1718.7" x2="528.5" y2="1727.2" stroke="#3a3a3a" stroke-width="1.4"/>
<line x1="584" y1="1718.7" x2="584" y2="1727.2" stroke="#3a3a3a" stroke-width="1.4"/>
<line x1="639.3" y1="1718.7" x2="639.3" y2="1727.2" stroke="#3a3a3a" stroke-width="1.4"/>
<line x1="694.5" y1="1718.7" x2="694.5" y2="1727.2" stroke="#3a3a3a" stroke-width="1.4"/>
<line x1="749.5" y1="1718.7" x2="749.5" y2="1727.2" stroke="#3a3a3a" stroke-width="1.4"/>
<path d="M460 1423.9V1727.5H762.3" fill="none" stroke="#000" stroke-width="1.6" stroke-linejoin="round"/>
<path d="M473.3 1727.5v3.8M528.5 1727.5v3.8M584 1727.5v3.8M639.3 1727.5v3.8M694.5 1727.5v3.8M749.5 1727.5v3.8M460 1714.4h-3.8M460 1640.2h-3.8M460 1565.9h-3.8M460 1491.6h-3.8" stroke="#333" stroke-width="1.1" fill="none"/>
<text class="tl" x="473.3" y="1744.8" text-anchor="middle">0</text>
<text class="tl" x="528.5" y="1744.8" text-anchor="middle">1</text>
<text class="tl" x="584" y="1744.8" text-anchor="middle">2</text>
<text class="tl" x="639.3" y="1744.8" text-anchor="middle">3</text>
<text class="tl" x="694.5" y="1744.8" text-anchor="middle">4</text>
<text class="tl" x="749.5" y="1744.8" text-anchor="middle">5</text>
<text class="tl" x="453.4" y="1719" text-anchor="end">0.00</text>
<text class="tl" x="453.4" y="1644.8" text-anchor="end">0.02</text>
<text class="tl" x="453.4" y="1570.5" text-anchor="end">0.04</text>
<text class="tl" x="453.4" y="1496.2" text-anchor="end">0.06</text>
<text class="tt" x="611.1" y="1412.8" text-anchor="middle">Seastate</text>
<text class="yl" transform="translate(401.7 1575.7) rotate(-90)" text-anchor="middle">Probability of occurrence</text>
<line x1="931.2" y1="1711" x2="931.2" y2="1710" stroke="#645432" stroke-width="2.6"/>
<line x1="931.2" y1="1713.9" x2="931.2" y2="1712" stroke="#645432" stroke-width="2.6"/>
<rect x="903.4" y="1710" width="55.7" height="3.9" fill="#645432" stroke="#645432" stroke-width="1.8" stroke-linejoin="bevel"/>
<circle cx="931.2" cy="1711.9" r="4.9" fill="#ffffff" stroke="#5a4a28" stroke-width="1.9"/>
<line x1="1069.3" y1="1568.5" x2="1069.3" y2="1641.3" stroke="#645432" stroke-width="2.6"/>
<line x1="1069.3" y1="1692.4" x2="1069.3" y2="1713.1" stroke="#645432" stroke-width="2.6"/>
<circle cx="1069.3" cy="1437.7" r="2.4" fill="#826932" fill-opacity="0.6"/>
<circle cx="1069.3" cy="1494.2" r="2.4" fill="#826932" fill-opacity="0.6"/>
<circle cx="1069.3" cy="1509.9" r="2.4" fill="#826932" fill-opacity="0.6"/>
<circle cx="1069.3" cy="1510.5" r="2.4" fill="#826932" fill-opacity="0.6"/>
<circle cx="1069.3" cy="1521.6" r="2.4" fill="#826932" fill-opacity="0.6"/>
<circle cx="1069.3" cy="1533.8" r="2.4" fill="#826932" fill-opacity="0.6"/>
<circle cx="1069.3" cy="1537.2" r="2.4" fill="#826932" fill-opacity="0.6"/>
<circle cx="1069.3" cy="1539.8" r="2.4" fill="#826932" fill-opacity="0.6"/>
<circle cx="1069.3" cy="1545.6" r="2.4" fill="#826932" fill-opacity="0.6"/>
<circle cx="1069.3" cy="1551" r="2.4" fill="#826932" fill-opacity="0.6"/>
<circle cx="1069.3" cy="1555.5" r="2.4" fill="#826932" fill-opacity="0.6"/>
<circle cx="1069.3" cy="1562" r="2.4" fill="#826932" fill-opacity="0.6"/>
<circle cx="1069.3" cy="1563.3" r="2.4" fill="#826932" fill-opacity="0.6"/>
<rect x="1041.9" y="1641.3" width="55" height="51.1" fill="#967f4a" stroke="#5e4d28" stroke-width="2"/>
<line x1="1042.8" y1="1671.4" x2="1096" y2="1671.4" stroke="#645432" stroke-width="4.3"/>
<circle cx="1069.3" cy="1663.1" r="4.9" fill="#ffffff" stroke="#5a4a28" stroke-width="1.9"/>
<path d="M848.5 1423.9V1727.5H1151.3" fill="none" stroke="#000" stroke-width="1.6" stroke-linejoin="round"/>
<path d="M931.1 1727.5v3.8M1069.3 1727.5v3.8M848.5 1713.9h-3.8M848.5 1618h-3.8M848.5 1522.4h-3.8M848.5 1427.3h-3.8" stroke="#333" stroke-width="1.1" fill="none"/>
<text class="tl" x="931.1" y="1744.8" text-anchor="middle">0</text>
<text class="tl" x="1069.3" y="1744.8" text-anchor="middle">1</text>
<text class="tl" x="841.9" y="1718.5" text-anchor="end">0.0</text>
<text class="tl" x="841.9" y="1622.6" text-anchor="end">0.2</text>
<text class="tl" x="841.9" y="1527" text-anchor="end">0.4</text>
<text class="tl" x="841.9" y="1431.9" text-anchor="end">0.6</text>
<text class="tt" x="999.9" y="1412.8" text-anchor="middle">Substrate - Fine Mud</text>
</svg></body></html>
